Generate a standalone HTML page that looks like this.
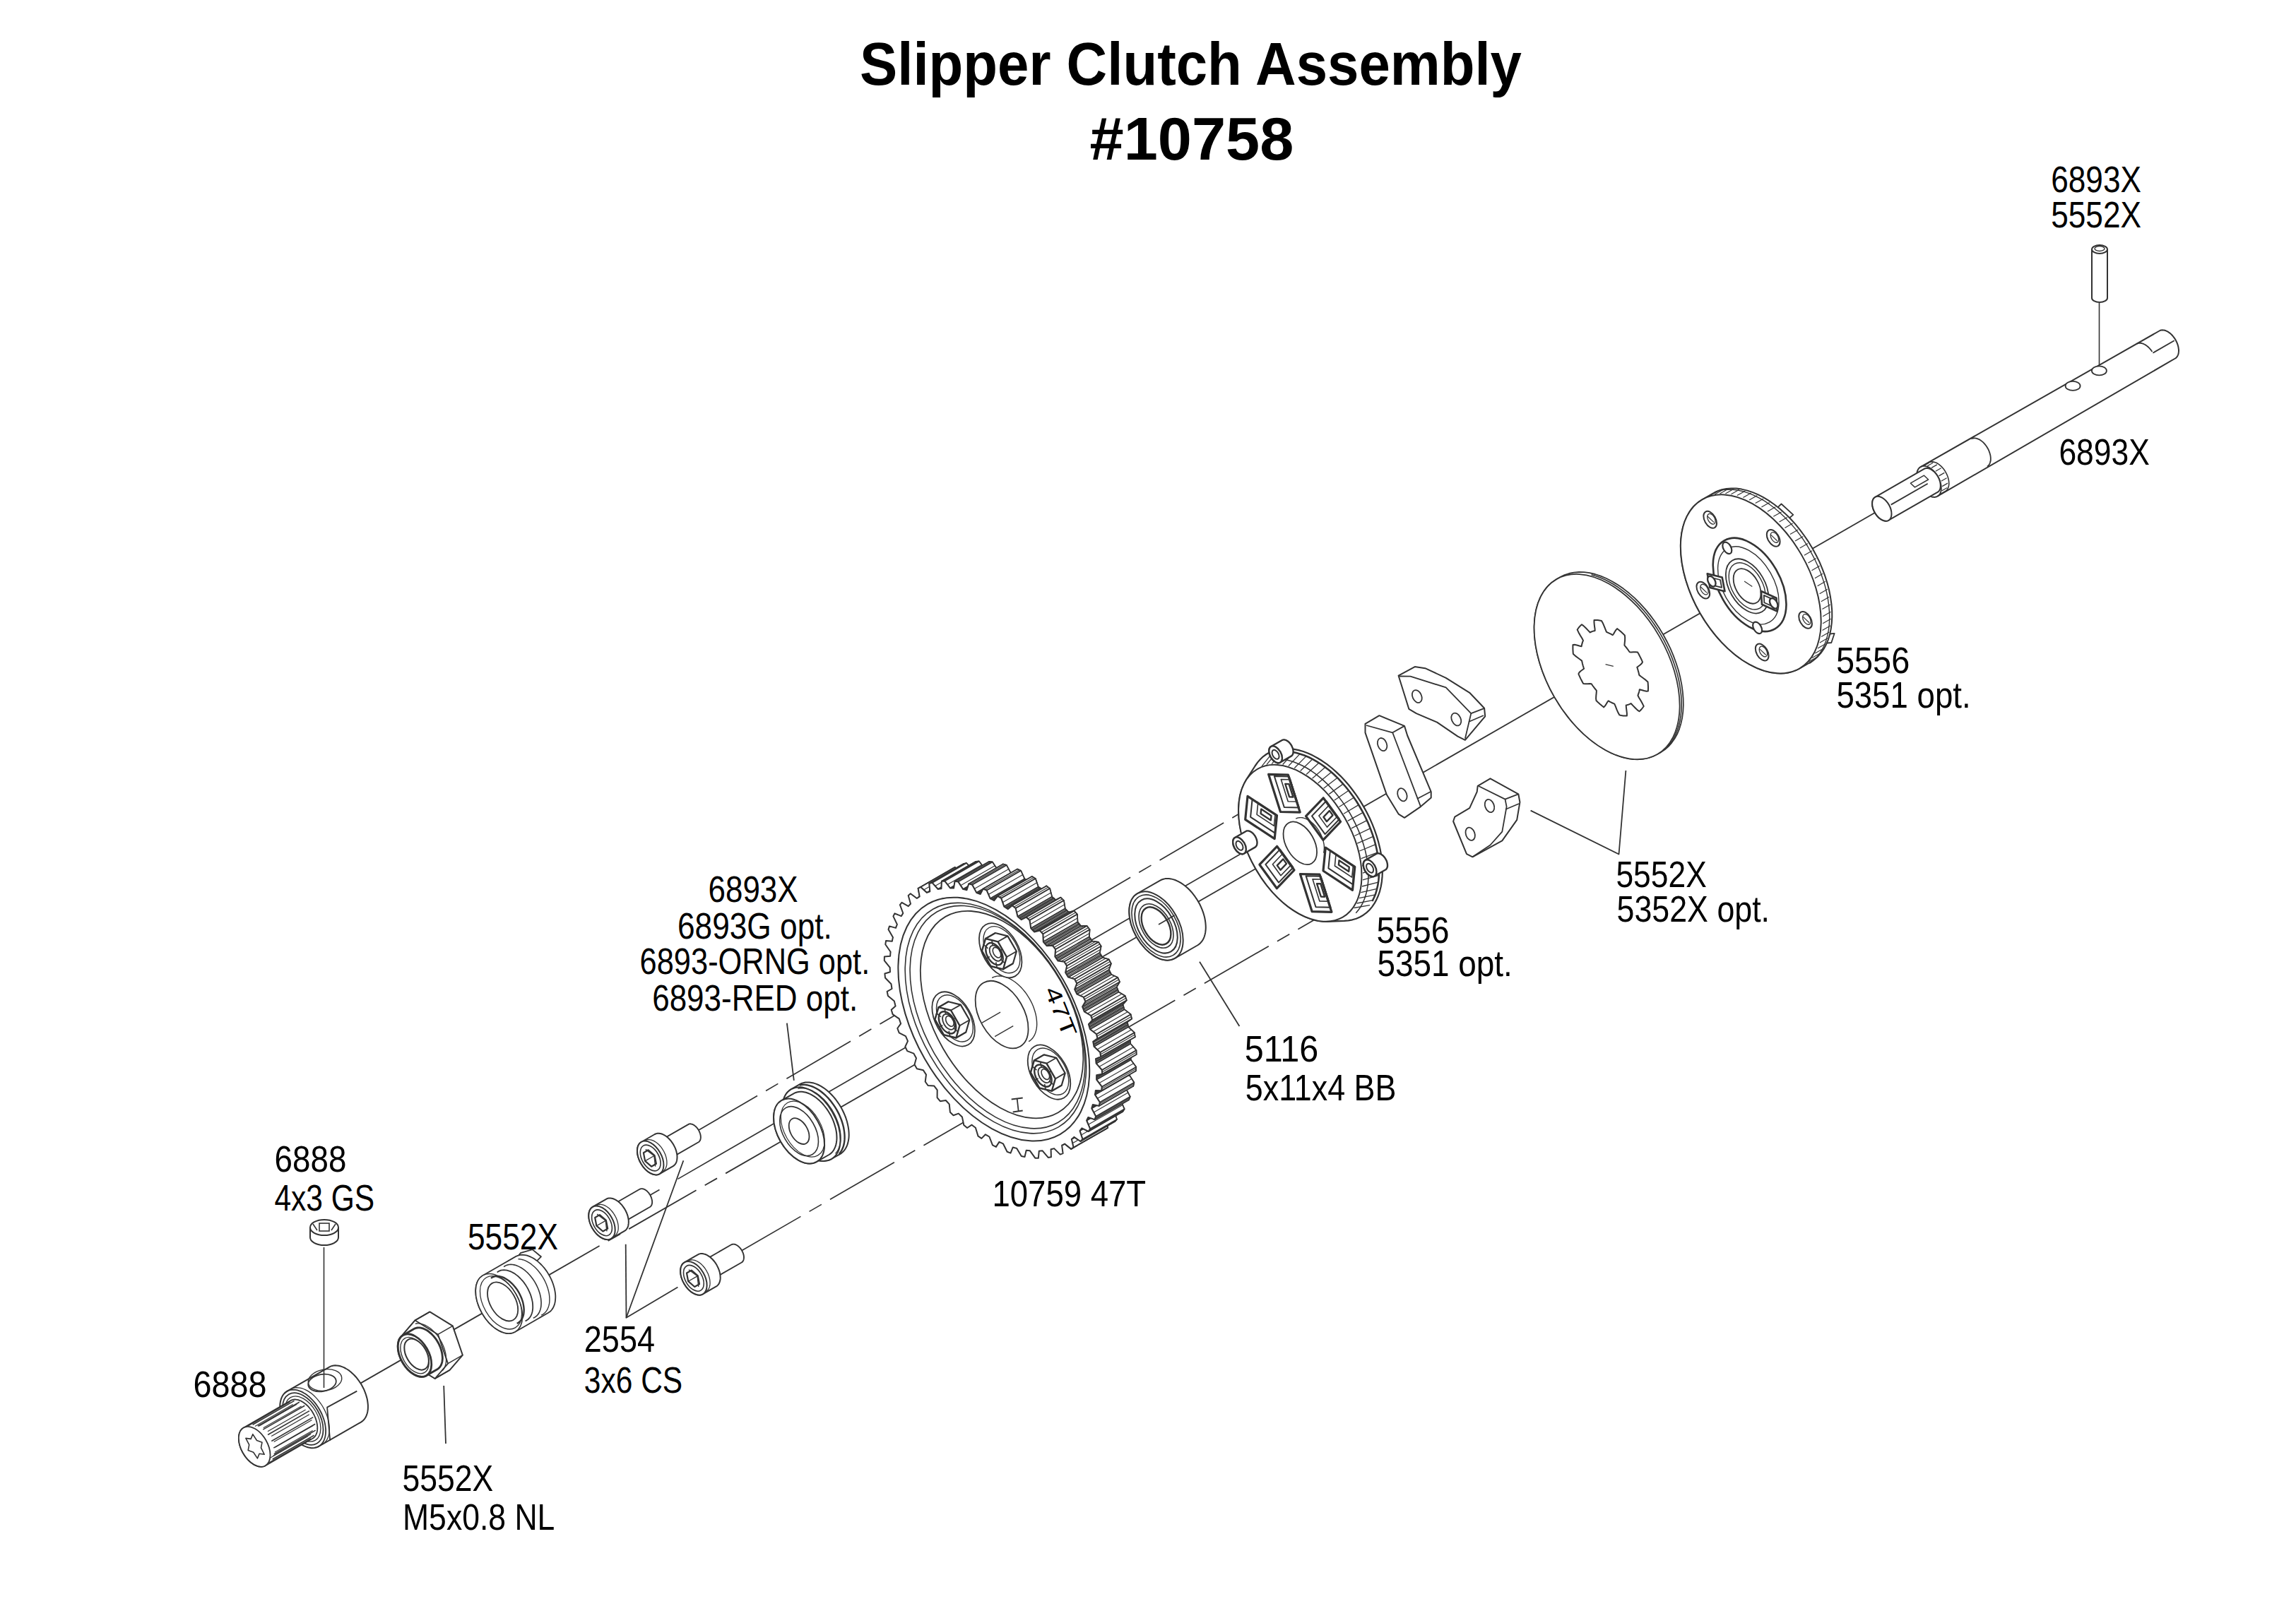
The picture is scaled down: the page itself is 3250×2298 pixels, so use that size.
<!DOCTYPE html>
<html><head><meta charset="utf-8"><style>
html,body{margin:0;padding:0;background:#fff;}
svg{display:block;}
.lb{font-family:"Liberation Sans",sans-serif;font-size:52px;fill:#000;}
.tt{font-family:"Liberation Sans",sans-serif;font-size:86px;font-weight:bold;fill:#000;}
</style></head><body>
<svg xmlns="http://www.w3.org/2000/svg" width="3250" height="2298" viewBox="0 0 3250 2298">
<rect width="3250" height="2298" fill="#fff"/>
<text x="2903.2" y="272.3" textLength="127.8" lengthAdjust="spacingAndGlyphs" class="lb">6893X</text>
<text x="2903.2" y="321.5" textLength="127.8" lengthAdjust="spacingAndGlyphs" class="lb">5552X</text>
<text x="2914.4" y="657.5" textLength="128.4" lengthAdjust="spacingAndGlyphs" class="lb">6893X</text>
<text x="2599.0" y="952.5" textLength="104.2" lengthAdjust="spacingAndGlyphs" class="lb">5556</text>
<text x="2599.4" y="1001.5" textLength="190.2" lengthAdjust="spacingAndGlyphs" class="lb">5351 opt.</text>
<text x="2287.4" y="1256.2" textLength="128.4" lengthAdjust="spacingAndGlyphs" class="lb">5552X</text>
<text x="2288.6" y="1305.2" textLength="216.4" lengthAdjust="spacingAndGlyphs" class="lb">5352X opt.</text>
<text x="1948.6" y="1334.7" textLength="103.0" lengthAdjust="spacingAndGlyphs" class="lb">5556</text>
<text x="1949.4" y="1381.7" textLength="191.4" lengthAdjust="spacingAndGlyphs" class="lb">5351 opt.</text>
<text x="1002.6" y="1276.7" textLength="127.0" lengthAdjust="spacingAndGlyphs" class="lb">6893X</text>
<text x="959.0" y="1329.0" textLength="218.8" lengthAdjust="spacingAndGlyphs" class="lb">6893G opt.</text>
<text x="905.6" y="1378.6" textLength="325.6" lengthAdjust="spacingAndGlyphs" class="lb">6893-ORNG opt.</text>
<text x="923.2" y="1430.8" textLength="291.0" lengthAdjust="spacingAndGlyphs" class="lb">6893-RED opt.</text>
<text x="1761.8" y="1502.7" textLength="104.4" lengthAdjust="spacingAndGlyphs" class="lb">5116</text>
<text x="1762.8" y="1557.6" textLength="213.6" lengthAdjust="spacingAndGlyphs" class="lb">5x11x4 BB</text>
<text x="1404.4" y="1707.9" textLength="217.8" lengthAdjust="spacingAndGlyphs" class="lb">10759 47T</text>
<text x="388.6" y="1658.8" textLength="101.8" lengthAdjust="spacingAndGlyphs" class="lb">6888</text>
<text x="388.4" y="1713.7" textLength="141.8" lengthAdjust="spacingAndGlyphs" class="lb">4x3 GS</text>
<text x="662.0" y="1769.2" textLength="128.0" lengthAdjust="spacingAndGlyphs" class="lb">5552X</text>
<text x="826.8" y="1914.4" textLength="100.2" lengthAdjust="spacingAndGlyphs" class="lb">2554</text>
<text x="826.8" y="1971.5" textLength="139.4" lengthAdjust="spacingAndGlyphs" class="lb">3x6 CS</text>
<text x="273.4" y="1977.9" textLength="104.0" lengthAdjust="spacingAndGlyphs" class="lb">6888</text>
<text x="569.4" y="2111.0" textLength="128.8" lengthAdjust="spacingAndGlyphs" class="lb">5552X</text>
<text x="570.0" y="2165.8" textLength="215.4" lengthAdjust="spacingAndGlyphs" class="lb">M5x0.8 NL</text>
<text x="1217.0" y="119.5" textLength="937.0" lengthAdjust="spacingAndGlyphs" class="tt">Slipper Clutch Assembly</text>
<text x="1542.6" y="226.2" textLength="288.8" lengthAdjust="spacingAndGlyphs" class="tt">#10758</text>
<line x1="456.7" y1="1989.4" x2="753.2" y2="1818.9" stroke="#333" stroke-width="1.8"/>
<line x1="753.2" y1="1818.9" x2="1131.1" y2="1601.6" stroke="#333" stroke-width="1.8" stroke-dasharray="110 14 20 14"/>
<line x1="1131.1" y1="1601.6" x2="2658.6" y2="723.3" stroke="#333" stroke-width="1.8"/>
<line x1="2971.5" y1="429.0" x2="2971.5" y2="517.0" stroke="#333" stroke-width="1.6"/>
<path d="M2961,353 L2961,422 A11,6 0 0 0 2983,422 L2983,353" fill="#fff" stroke="#333" stroke-width="2"/>
<ellipse cx="2972" cy="353" rx="11" ry="6" fill="#fff" stroke="#333" stroke-width="2"/>
<ellipse cx="2972" cy="352" rx="7" ry="3.5" fill="none" stroke="#333" stroke-width="1.4"/>
<polygon points="3056.6,468.5 3057.5,468.0 3058.5,467.6 3059.6,467.4 3060.7,467.3 3061.9,467.4 3063.1,467.5 3064.3,467.8 3065.6,468.2 3066.9,468.8 3068.1,469.4 3069.4,470.2 3070.7,471.1 3071.9,472.0 3073.1,473.1 3074.3,474.3 3075.4,475.5 3076.5,476.9 3077.6,478.3 3078.6,479.7 3079.5,481.2 3080.3,482.8 3081.1,484.4 3081.8,486.0 3082.4,487.6 3082.9,489.2 3083.3,490.8 3083.6,492.4 3083.8,494.0 3084.0,495.5 3084.0,497.0 3083.9,498.4 3083.7,499.8 3083.5,501.1 3083.1,502.3 3082.6,503.4 3082.1,504.4 3081.4,505.4 3080.7,506.2 3079.9,506.9 3079.0,507.5 2742.5,702.7 2741.5,703.2 2740.4,703.5 2739.3,703.8 2738.1,703.9 2736.8,703.8 2735.5,703.7 2734.2,703.4 2732.9,702.9 2731.5,702.4 2730.2,701.7 2728.8,700.8 2727.5,699.9 2726.2,698.9 2724.9,697.7 2723.6,696.5 2722.4,695.1 2721.2,693.7 2720.1,692.2 2719.1,690.7 2718.1,689.1 2717.2,687.4 2716.4,685.7 2715.6,684.0 2715.0,682.3 2714.4,680.5 2714.0,678.8 2713.7,677.1 2713.4,675.5 2713.3,673.8 2713.3,672.2 2713.4,670.7 2713.5,669.3 2713.8,667.9 2714.2,666.6 2714.7,665.4 2715.3,664.3 2716.0,663.3 2716.8,662.4 2717.7,661.7 2718.6,661.1" fill="#fff" stroke="#333" stroke-width="2.0" stroke-linejoin="round"/>
<polyline points="2718.6,661.1 2719.6,660.6 2720.7,660.2 2721.8,660.0 2723.0,659.9 2724.3,659.9 2725.6,660.1 2726.9,660.4 2728.2,660.8 2729.6,661.4 2730.9,662.1 2732.3,662.9 2733.6,663.8 2734.9,664.9 2736.2,666.0 2737.5,667.3 2738.7,668.6 2739.9,670.0 2741.0,671.5 2742.1,673.1 2743.0,674.7 2743.9,676.4 2744.8,678.0 2745.5,679.8 2746.1,681.5 2746.7,683.2 2747.1,684.9 2747.5,686.6 2747.7,688.3 2747.8,689.9 2747.8,691.5 2747.8,693.0 2747.6,694.5 2747.3,695.9 2746.9,697.2 2746.4,698.4 2745.8,699.4 2745.1,700.4 2744.3,701.3 2743.5,702.1 2742.5,702.7" fill="none" stroke="#333" stroke-width="1.8" stroke-linejoin="round"/>
<polyline points="2730.1,655.0 2731.1,654.5 2732.2,654.2 2733.3,653.9 2734.5,653.8 2735.7,653.9 2736.9,654.1 2738.2,654.4 2739.5,654.8 2740.9,655.3 2742.2,656.0 2743.5,656.8 2744.8,657.7 2746.1,658.8 2747.4,659.9 2748.6,661.1 2749.8,662.4 2751.0,663.8 2752.1,665.3 2753.1,666.8 2754.0,668.4 2754.9,670.0 2755.7,671.6 2756.4,673.3 2757.1,675.0 2757.6,676.7 2758.0,678.4 2758.4,680.0 2758.6,681.7 2758.7,683.3 2758.8,684.8 2758.7,686.3 2758.5,687.7 2758.2,689.1 2757.8,690.4 2757.3,691.5 2756.7,692.6 2756.1,693.6 2755.3,694.4 2754.5,695.2 2753.5,695.8" fill="none" stroke="#333" stroke-width="1.6" stroke-linejoin="round"/>
<line x1="2722.9" y1="659.6" x2="2730.7" y2="655.1" stroke="#333" stroke-width="1.3"/>
<line x1="2728.3" y1="659.7" x2="2736.1" y2="655.2" stroke="#333" stroke-width="1.3"/>
<line x1="2734.1" y1="662.4" x2="2741.9" y2="657.9" stroke="#333" stroke-width="1.3"/>
<line x1="2739.8" y1="667.3" x2="2747.6" y2="662.8" stroke="#333" stroke-width="1.3"/>
<line x1="2744.5" y1="673.9" x2="2752.3" y2="669.4" stroke="#333" stroke-width="1.3"/>
<line x1="2747.8" y1="681.2" x2="2755.6" y2="676.8" stroke="#333" stroke-width="1.3"/>
<line x1="2749.2" y1="688.6" x2="2757.0" y2="684.1" stroke="#333" stroke-width="1.3"/>
<line x1="2748.5" y1="695.0" x2="2756.3" y2="690.5" stroke="#333" stroke-width="1.3"/>
<line x1="2745.9" y1="699.7" x2="2753.8" y2="695.2" stroke="#333" stroke-width="1.3"/>
<polyline points="2790.4,621.5 2791.4,621.0 2792.4,620.7 2793.5,620.5 2794.6,620.4 2795.8,620.4 2797.0,620.6 2798.2,620.9 2799.4,621.3 2800.7,621.8 2802.0,622.4 2803.3,623.2 2804.5,624.1 2805.8,625.1 2807.0,626.1 2808.2,627.3 2809.3,628.6 2810.4,629.9 2811.4,631.3 2812.4,632.8 2813.3,634.3 2814.2,635.8 2815.0,637.4 2815.6,639.0 2816.2,640.6 2816.7,642.2 2817.2,643.9 2817.5,645.5 2817.7,647.0 2817.8,648.6 2817.8,650.0 2817.8,651.5 2817.6,652.8 2817.3,654.1 2816.9,655.3 2816.5,656.4 2815.9,657.5 2815.3,658.4 2814.6,659.2 2813.7,659.9 2812.9,660.5" fill="none" stroke="#333" stroke-width="1.8" stroke-linejoin="round"/>
<polyline points="3024.5,486.9 3024.9,486.7 3025.4,486.5 3025.9,486.3 3026.3,486.1 3026.8,486.0 3027.3,485.9 3027.9,485.8 3028.4,485.8 3028.9,485.8 3029.5,485.8 3030.1,485.8 3030.6,485.9 3031.2,486.0 3031.8,486.1 3032.4,486.3 3032.9,486.5 3033.5,486.7 3034.1,486.9 3034.7,487.2 3035.3,487.5 3035.9,487.8 3036.5,488.1 3037.1,488.5 3037.7,488.9 3038.3,489.3 3038.9,489.8 3039.5,490.2 3040.1,490.7 3040.7,491.2 3041.2,491.7 3041.8,492.3 3042.4,492.9 3042.9,493.4 3043.4,494.1 3044.0,494.7 3044.5,495.3 3045.0,496.0 3045.5,496.6 3045.9,497.3 3046.4,498.0" fill="none" stroke="#333" stroke-width="1.8" stroke-linejoin="round"/>
<line x1="3047.4" y1="499.7" x2="3077.7" y2="482.2" stroke="#333" stroke-width="1.8"/>
<polygon points="2723.7,663.9 2724.5,663.5 2725.3,663.2 2726.3,663.0 2727.2,663.0 2728.2,663.0 2729.2,663.1 2730.2,663.4 2731.3,663.7 2732.4,664.2 2733.4,664.7 2734.5,665.4 2735.6,666.1 2736.6,666.9 2737.7,667.8 2738.7,668.8 2739.6,669.9 2740.6,671.0 2741.4,672.2 2742.3,673.4 2743.0,674.7 2743.8,676.0 2744.4,677.3 2745.0,678.7 2745.5,680.1 2745.9,681.4 2746.3,682.8 2746.5,684.1 2746.7,685.5 2746.8,686.8 2746.8,688.0 2746.8,689.2 2746.6,690.4 2746.4,691.5 2746.1,692.5 2745.7,693.4 2745.2,694.3 2744.7,695.1 2744.1,695.8 2743.4,696.4 2742.6,696.9 2673.3,736.7 2672.5,737.1 2671.6,737.4 2670.7,737.6 2669.8,737.7 2668.8,737.7 2667.8,737.5 2666.7,737.3 2665.7,736.9 2664.6,736.5 2663.5,735.9 2662.4,735.3 2661.4,734.5 2660.3,733.7 2659.3,732.8 2658.3,731.8 2657.3,730.8 2656.4,729.6 2655.5,728.4 2654.7,727.2 2653.9,725.9 2653.2,724.6 2652.6,723.3 2652.0,721.9 2651.5,720.6 2651.1,719.2 2650.7,717.8 2650.4,716.5 2650.2,715.2 2650.1,713.9 2650.1,712.6 2650.2,711.4 2650.3,710.3 2650.6,709.2 2650.9,708.2 2651.3,707.2 2651.7,706.4 2652.3,705.6 2652.9,704.9 2653.6,704.3 2654.3,703.8" fill="#fff" stroke="#333" stroke-width="2.0" stroke-linejoin="round"/>
<ellipse cx="2663.8" cy="720.3" rx="11.4" ry="19.0" transform="rotate(-29.9 2663.8 720.3)" fill="#fff" stroke="#333" stroke-width="2.0"/>
<line x1="2676.7" y1="714.6" x2="2728.7" y2="684.7" stroke="#333" stroke-width="1.8"/>
<polyline points="2660.0,733.4 2658.3,731.8 2656.7,730.0 2655.2,728.0 2653.9,725.9 2652.8,723.7 2651.8,721.5 2651.1,719.2 2650.5,716.9" fill="none" stroke="#333" stroke-width="1.4" stroke-linejoin="round"/>
<polygon points="2704.4,684.2 2723.5,673.2 2729.6,679.0 2710.5,689.9" fill="none" stroke="#333" stroke-width="1.5" stroke-linejoin="round"/>
<ellipse cx="2934.1" cy="546.4" rx="10.5" ry="6.5" fill="#fff" stroke="#333" stroke-width="1.8"/>
<ellipse cx="2971.4" cy="524.9" rx="10.5" ry="6.5" fill="#fff" stroke="#333" stroke-width="1.8"/>
<polygon points="2425.1,698.3 2430.9,695.5 2437.2,693.3 2443.8,692.0 2450.7,691.4 2457.8,691.6 2465.2,692.6 2472.7,694.4 2480.4,696.9 2488.2,700.2 2496.0,704.2 2503.8,708.9 2511.5,714.3 2519.2,720.3 2526.6,726.9 2533.9,734.0 2540.9,741.7 2547.6,749.9 2554.0,758.5 2560.1,767.4 2565.7,776.7 2570.8,786.2 2575.6,795.9 2579.7,805.8 2583.4,815.7 2586.5,825.6 2589.1,835.5 2591.0,845.3 2592.4,854.9 2593.2,864.3 2593.3,873.4 2592.8,882.1 2591.7,890.5 2590.1,898.4 2587.8,905.8 2584.9,912.7 2581.5,919.0 2577.5,924.7 2573.1,929.7 2568.1,934.0 2562.7,937.6 2547.1,946.6 2541.2,949.4 2535.0,951.6 2528.4,952.9 2521.5,953.5 2514.4,953.3 2507.0,952.3 2499.4,950.5 2491.8,948.0 2484.0,944.7 2476.2,940.7 2468.4,936.0 2460.7,930.6 2453.0,924.6 2445.6,918.0 2438.3,910.8 2431.3,903.2 2424.6,895.0 2418.2,886.4 2412.1,877.5 2406.5,868.2 2401.3,858.7 2396.6,849.0 2392.4,839.1 2388.8,829.2 2385.6,819.3 2383.1,809.4 2381.1,799.6 2379.8,790.0 2379.0,780.6 2378.9,771.5 2379.4,762.8 2380.4,754.4 2382.1,746.5 2384.4,739.1 2387.3,732.2 2390.7,725.9 2394.6,720.2 2399.1,715.2 2404.1,710.9 2409.5,707.3" fill="#fff" stroke="#333" stroke-width="2.0" stroke-linejoin="round"/>
<ellipse cx="2478.3" cy="826.9" rx="82.8" ry="138.0" transform="rotate(-29.9 2478.3 826.9)" fill="#fff" stroke="#333" stroke-width="2.0"/>
<polyline points="2426.8,696.8 2432.9,694.8 2439.3,693.5 2446.0,693.0 2452.9,693.2 2460.0,694.1 2467.3,695.7 2474.7,698.1 2482.3,701.1 2489.8,704.8 2497.4,709.2 2504.9,714.2 2512.3,719.8 2519.6,726.0 2526.7,732.7 2533.6,740.0 2540.3,747.6 2546.6,755.7 2552.7,764.2 2558.4,773.0 2563.6,782.1 2568.5,791.3 2572.9,800.8 2576.9,810.3 2580.3,819.9 2583.3,829.5 2585.7,839.1 2587.5,848.6 2588.8,857.9 2589.5,866.9 2589.7,875.8 2589.3,884.3 2588.3,892.4 2586.7,900.1 2584.7,907.4 2582.0,914.2 2578.9,920.4 2575.2,926.1 2571.0,931.2 2566.4,935.6 2561.3,939.4" fill="none" stroke="#333" stroke-width="1.4" stroke-linejoin="round"/>
<line x1="2420.0" y1="702.1" x2="2431.2" y2="695.7" stroke="#333" stroke-width="1.2"/>
<line x1="2427.1" y1="700.1" x2="2438.3" y2="693.7" stroke="#333" stroke-width="1.2"/>
<line x1="2434.5" y1="699.1" x2="2445.8" y2="692.6" stroke="#333" stroke-width="1.2"/>
<line x1="2442.4" y1="699.0" x2="2453.7" y2="692.5" stroke="#333" stroke-width="1.2"/>
<line x1="2450.5" y1="699.8" x2="2461.8" y2="693.3" stroke="#333" stroke-width="1.2"/>
<line x1="2458.9" y1="701.6" x2="2470.2" y2="695.2" stroke="#333" stroke-width="1.2"/>
<line x1="2467.4" y1="704.4" x2="2478.7" y2="697.9" stroke="#333" stroke-width="1.2"/>
<line x1="2476.1" y1="708.1" x2="2487.3" y2="701.6" stroke="#333" stroke-width="1.2"/>
<line x1="2484.7" y1="712.6" x2="2496.0" y2="706.2" stroke="#333" stroke-width="1.2"/>
<line x1="2493.4" y1="718.1" x2="2504.7" y2="711.6" stroke="#333" stroke-width="1.2"/>
<line x1="2501.9" y1="724.3" x2="2513.2" y2="717.8" stroke="#333" stroke-width="1.2"/>
<line x1="2510.3" y1="731.3" x2="2521.6" y2="724.9" stroke="#333" stroke-width="1.2"/>
<line x1="2518.5" y1="739.1" x2="2529.8" y2="732.6" stroke="#333" stroke-width="1.2"/>
<line x1="2526.4" y1="747.5" x2="2537.6" y2="741.0" stroke="#333" stroke-width="1.2"/>
<line x1="2533.9" y1="756.5" x2="2545.2" y2="750.0" stroke="#333" stroke-width="1.2"/>
<line x1="2541.0" y1="766.0" x2="2552.3" y2="759.5" stroke="#333" stroke-width="1.2"/>
<line x1="2547.7" y1="775.9" x2="2559.0" y2="769.4" stroke="#333" stroke-width="1.2"/>
<line x1="2553.9" y1="786.3" x2="2565.1" y2="779.8" stroke="#333" stroke-width="1.2"/>
<line x1="2559.5" y1="796.9" x2="2570.7" y2="790.4" stroke="#333" stroke-width="1.2"/>
<line x1="2564.5" y1="807.8" x2="2575.7" y2="801.3" stroke="#333" stroke-width="1.2"/>
<line x1="2568.9" y1="818.7" x2="2580.1" y2="812.3" stroke="#333" stroke-width="1.2"/>
<line x1="2572.6" y1="829.8" x2="2583.8" y2="823.3" stroke="#333" stroke-width="1.2"/>
<line x1="2575.6" y1="840.8" x2="2586.8" y2="834.3" stroke="#333" stroke-width="1.2"/>
<line x1="2577.8" y1="851.7" x2="2589.1" y2="845.2" stroke="#333" stroke-width="1.2"/>
<line x1="2579.4" y1="862.4" x2="2590.7" y2="855.9" stroke="#333" stroke-width="1.2"/>
<line x1="2580.2" y1="872.8" x2="2591.5" y2="866.3" stroke="#333" stroke-width="1.2"/>
<line x1="2580.2" y1="882.8" x2="2591.5" y2="876.3" stroke="#333" stroke-width="1.2"/>
<line x1="2579.5" y1="892.4" x2="2590.8" y2="886.0" stroke="#333" stroke-width="1.2"/>
<line x1="2578.1" y1="901.5" x2="2589.3" y2="895.1" stroke="#333" stroke-width="1.2"/>
<line x1="2575.9" y1="910.1" x2="2587.1" y2="903.6" stroke="#333" stroke-width="1.2"/>
<line x1="2572.9" y1="917.9" x2="2584.2" y2="911.5" stroke="#333" stroke-width="1.2"/>
<line x1="2569.3" y1="925.1" x2="2580.6" y2="918.6" stroke="#333" stroke-width="1.2"/>
<line x1="2565.0" y1="931.5" x2="2576.3" y2="925.1" stroke="#333" stroke-width="1.2"/>
<line x1="2560.1" y1="937.1" x2="2571.3" y2="930.7" stroke="#333" stroke-width="1.2"/>
<polyline points="2516.6,718.2 2521.5,713.5 2538.3,728.9 2533.1,733.2" fill="none" stroke="#333" stroke-width="1.8" stroke-linejoin="round"/>
<polyline points="2590.3,897.5 2596.7,896.8 2592.3,910.0 2585.9,910.5" fill="none" stroke="#333" stroke-width="1.8" stroke-linejoin="round"/>
<ellipse cx="2510.2" cy="761.9" rx="7.8" ry="13.0" transform="rotate(-29.9 2510.2 761.9)" fill="#fff" stroke="#333" stroke-width="2.0"/>
<ellipse cx="2511.9" cy="760.9" rx="4.8" ry="8.0" transform="rotate(-29.9 2511.9 760.9)" fill="none" stroke="#333" stroke-width="1.3"/>
<line x1="2506.5" y1="757.1" x2="2515.6" y2="765.7" stroke="#333" stroke-width="1.2"/>
<ellipse cx="2555.6" cy="877.9" rx="7.8" ry="13.0" transform="rotate(-29.9 2555.6 877.9)" fill="#fff" stroke="#333" stroke-width="2.0"/>
<ellipse cx="2557.4" cy="876.9" rx="4.8" ry="8.0" transform="rotate(-29.9 2557.4 876.9)" fill="none" stroke="#333" stroke-width="1.3"/>
<line x1="2552.0" y1="873.1" x2="2561.1" y2="881.7" stroke="#333" stroke-width="1.2"/>
<ellipse cx="2494.2" cy="923.5" rx="7.8" ry="13.0" transform="rotate(-29.9 2494.2 923.5)" fill="#fff" stroke="#333" stroke-width="2.0"/>
<ellipse cx="2495.9" cy="922.5" rx="4.8" ry="8.0" transform="rotate(-29.9 2495.9 922.5)" fill="none" stroke="#333" stroke-width="1.3"/>
<line x1="2490.5" y1="918.6" x2="2499.6" y2="927.3" stroke="#333" stroke-width="1.2"/>
<ellipse cx="2410.8" cy="835.6" rx="7.8" ry="13.0" transform="rotate(-29.9 2410.8 835.6)" fill="#fff" stroke="#333" stroke-width="2.0"/>
<ellipse cx="2412.5" cy="834.6" rx="4.8" ry="8.0" transform="rotate(-29.9 2412.5 834.6)" fill="none" stroke="#333" stroke-width="1.3"/>
<line x1="2407.1" y1="830.8" x2="2416.2" y2="839.4" stroke="#333" stroke-width="1.2"/>
<ellipse cx="2420.7" cy="735.8" rx="7.8" ry="13.0" transform="rotate(-29.9 2420.7 735.8)" fill="#fff" stroke="#333" stroke-width="2.0"/>
<ellipse cx="2422.4" cy="734.8" rx="4.8" ry="8.0" transform="rotate(-29.9 2422.4 734.8)" fill="none" stroke="#333" stroke-width="1.3"/>
<line x1="2417.0" y1="731.0" x2="2426.1" y2="739.6" stroke="#333" stroke-width="1.2"/>
<ellipse cx="2476.6" cy="827.9" rx="43.2" ry="72.0" transform="rotate(-29.9 2476.6 827.9)" fill="#fff" stroke="#333" stroke-width="2.6"/>
<ellipse cx="2474.8" cy="828.9" rx="36.0" ry="60.0" transform="rotate(-29.9 2474.8 828.9)" fill="none" stroke="#333" stroke-width="1.4"/>
<ellipse cx="2473.1" cy="829.9" rx="25.2" ry="42.0" transform="rotate(-29.9 2473.1 829.9)" fill="#fff" stroke="#333" stroke-width="1.8"/>
<ellipse cx="2473.1" cy="829.9" rx="21.6" ry="36.0" transform="rotate(-29.9 2473.1 829.9)" fill="none" stroke="#333" stroke-width="1.4"/>
<ellipse cx="2473.1" cy="829.9" rx="16.2" ry="27.0" transform="rotate(-29.9 2473.1 829.9)" fill="none" stroke="#333" stroke-width="1.8"/>
<line x1="2469.1" y1="823.0" x2="2480.3" y2="830.4" stroke="#333" stroke-width="1.2"/>
<polygon points="2441.5,837.2 2420.5,832.0 2416.7,812.2 2437.7,817.4" fill="#fff" stroke="#333" stroke-width="2.6" stroke-linejoin="round"/>
<polygon points="2437.1,831.8 2423.1,828.3 2421.0,817.5 2435.0,821.0" fill="none" stroke="#333" stroke-width="1.8" stroke-linejoin="round"/>
<ellipse cx="2422.8" cy="823.1" rx="4.8" ry="8.0" transform="rotate(-29.9 2422.8 823.1)" fill="#fff" stroke="#333" stroke-width="2.4"/>
<polygon points="2492.9,837.0 2514.5,846.8 2515.6,865.6 2494.0,855.8" fill="#fff" stroke="#333" stroke-width="2.6" stroke-linejoin="round"/>
<polygon points="2496.8,842.9 2511.2,849.4 2511.7,859.7 2497.3,853.2" fill="none" stroke="#333" stroke-width="1.8" stroke-linejoin="round"/>
<ellipse cx="2510.7" cy="854.3" rx="4.8" ry="8.0" transform="rotate(-29.9 2510.7 854.3)" fill="#fff" stroke="#333" stroke-width="2.4"/>
<ellipse cx="2444.8" cy="775.8" rx="5.4" ry="9.0" transform="rotate(-29.9 2444.8 775.8)" fill="#fff" stroke="#333" stroke-width="2.2"/>
<ellipse cx="2487.6" cy="888.8" rx="5.4" ry="9.0" transform="rotate(-29.9 2487.6 888.8)" fill="#fff" stroke="#333" stroke-width="2.2"/>
<polygon points="2208.5,817.1 2214.5,814.1 2221.0,812.0 2227.8,810.6 2235.0,810.0 2242.4,810.2 2250.0,811.2 2257.9,813.0 2265.8,815.7 2273.9,819.0 2282.0,823.2 2290.0,828.1 2298.0,833.6 2305.9,839.8 2313.7,846.7 2321.2,854.1 2328.5,862.1 2335.5,870.6 2342.1,879.5 2348.3,888.7 2354.1,898.3 2359.5,908.2 2364.4,918.2 2368.7,928.4 2372.5,938.7 2375.8,949.0 2378.4,959.3 2380.4,969.4 2381.8,979.4 2382.6,989.1 2382.8,998.5 2382.3,1007.6 2381.2,1016.2 2379.4,1024.4 2377.1,1032.1 2374.1,1039.3 2370.5,1045.8 2366.4,1051.6 2361.8,1056.8 2356.7,1061.3 2351.1,1065.1 2345.9,1068.0 2339.8,1071.0 2333.3,1073.2 2326.5,1074.6 2319.4,1075.2 2312.0,1075.0 2304.3,1074.0 2296.5,1072.1 2288.5,1069.5 2280.5,1066.1 2272.4,1062.0 2264.3,1057.1 2256.3,1051.5 2248.4,1045.3 2240.7,1038.5 2233.1,1031.0 2225.9,1023.1 2218.9,1014.6 2212.3,1005.7 2206.0,996.4 2200.2,986.9 2194.8,977.0 2190.0,966.9 2185.6,956.7 2181.8,946.4 2178.6,936.2 2175.9,925.9 2173.9,915.8 2172.5,905.8 2171.7,896.1 2171.6,886.7 2172.1,877.6 2173.2,868.9 2174.9,860.7 2177.3,853.0 2180.2,845.9 2183.8,839.4 2187.9,833.5 2192.5,828.3 2197.7,823.9 2203.3,820.1" fill="#fff" stroke="#333" stroke-width="1.8" stroke-linejoin="round"/>
<ellipse cx="2274.6" cy="944.1" rx="85.8" ry="143.0" transform="rotate(-29.9 2274.6 944.1)" fill="#fff" stroke="#333" stroke-width="1.8"/>
<polyline points="2252.6,813.8 2258.8,815.6 2265.0,817.8 2271.3,820.5 2277.6,823.7 2283.8,827.3 2290.1,831.3 2296.3,835.8 2302.5,840.6 2308.5,845.8 2314.5,851.4 2320.2,857.4 2325.9,863.6 2331.3,870.1 2336.6,876.9 2341.6,884.0 2346.4,891.3 2350.9,898.7 2355.2,906.4 2359.1,914.1 2362.8,922.0 2366.1,929.9 2369.1,937.9 2371.8,945.9 2374.1,953.9 2376.1,961.9 2377.6,969.8 2378.8,977.6 2379.7,985.2 2380.1,992.7 2380.2,1000.0 2379.8,1007.1 2379.1,1013.9 2378.0,1020.5 2376.6,1026.8 2374.7,1032.8 2372.5,1038.4 2370.0,1043.7 2367.1,1048.6 2363.8,1053.1 2360.3,1057.2" fill="none" stroke="#333" stroke-width="1.6" stroke-linejoin="round"/>
<polygon points="2318.2,923.6 2319.1,925.3 2320.1,927.0 2320.9,928.7 2321.8,930.4 2322.7,932.2 2323.5,933.9 2324.3,935.7 2325.0,937.4 2323.8,939.5 2321.6,941.5 2319.3,943.2 2317.3,944.8 2317.8,946.2 2318.2,947.6 2318.6,949.0 2319.0,950.4 2319.4,951.7 2319.7,953.1 2320.0,954.5 2320.3,955.9 2322.7,957.8 2326.1,960.3 2329.6,962.9 2332.5,965.6 2332.7,967.2 2332.8,968.9 2332.9,970.6 2333.0,972.2 2333.0,973.9 2333.0,975.5 2332.9,977.1 2332.9,978.6 2330.5,978.7 2327.2,978.0 2323.7,977.0 2320.8,976.2 2320.6,977.4 2320.4,978.5 2320.1,979.6 2319.8,980.6 2319.5,981.7 2319.1,982.7 2318.8,983.7 2318.4,984.6 2319.9,987.7 2322.4,991.8 2324.8,996.1 2326.7,999.9 2326.0,1001.0 2325.3,1002.0 2324.5,1003.0 2323.8,1003.9 2323.0,1004.8 2322.1,1005.7 2321.3,1006.5 2320.4,1007.2 2317.8,1005.4 2314.6,1002.2 2311.3,998.9 2308.6,996.0 2307.8,996.5 2307.0,996.9 2306.1,997.2 2305.3,997.6 2304.4,997.9 2303.5,998.1 2302.6,998.4 2301.7,998.5 2301.9,1001.5 2302.4,1005.7 2302.9,1010.0 2302.9,1013.6 2301.6,1013.6 2300.3,1013.6 2299.0,1013.5 2297.7,1013.4 2296.4,1013.2 2295.1,1013.0 2293.7,1012.7 2292.4,1012.4 2290.6,1009.3 2288.6,1004.9 2286.9,1000.4 2285.3,996.6 2284.3,996.2 2283.2,995.7 2282.1,995.3 2281.0,994.7 2279.9,994.2 2278.8,993.6 2277.7,992.9 2276.6,992.3 2275.3,994.0 2273.7,996.8 2272.0,999.4 2270.2,1001.4 2268.9,1000.3 2267.5,999.3 2266.1,998.1 2264.8,997.0 2263.5,995.8 2262.1,994.6 2260.8,993.3 2259.5,992.1 2259.1,988.9 2259.3,984.9 2259.7,981.1 2259.9,977.8 2259.0,976.7 2258.0,975.5 2257.1,974.4 2256.2,973.2 2255.3,972.0 2254.4,970.8 2253.5,969.5 2252.7,968.3 2250.4,968.1 2247.3,968.3 2244.1,968.3 2241.2,967.9 2240.2,966.2 2239.3,964.5 2238.4,962.8 2237.5,961.1 2236.7,959.3 2235.9,957.6 2235.1,955.8 2234.4,954.1 2235.5,952.0 2237.7,950.0 2240.1,948.3 2242.1,946.7 2241.6,945.3 2241.2,943.9 2240.7,942.5 2240.4,941.2 2240.0,939.8 2239.7,938.4 2239.4,937.0 2239.1,935.6 2236.7,933.7 2233.3,931.2 2229.8,928.6 2226.9,926.0 2226.7,924.3 2226.6,922.6 2226.5,920.9 2226.4,919.3 2226.4,917.6 2226.4,916.0 2226.4,914.5 2226.5,912.9 2228.8,912.8 2232.2,913.5 2235.6,914.5 2238.6,915.3 2238.8,914.1 2239.0,913.0 2239.3,911.9 2239.6,910.9 2239.9,909.8 2240.2,908.8 2240.6,907.8 2241.0,906.9 2239.4,903.8 2236.9,899.7 2234.5,895.4 2232.7,891.6 2233.4,890.5 2234.1,889.5 2234.8,888.5 2235.6,887.6 2236.4,886.7 2237.2,885.9 2238.1,885.0 2239.0,884.3 2241.5,886.1 2244.8,889.3 2248.0,892.6 2250.8,895.5 2251.6,895.0 2252.4,894.6 2253.2,894.3 2254.1,893.9 2255.0,893.6 2255.8,893.4 2256.8,893.2 2257.7,893.0 2257.5,890.0 2256.9,885.8 2256.5,881.5 2256.5,877.9 2257.8,877.9 2259.0,877.9 2260.3,878.0 2261.6,878.1 2263.0,878.3 2264.3,878.5 2265.6,878.8 2267.0,879.1 2268.8,882.2 2270.7,886.6 2272.5,891.1 2274.0,894.9 2275.1,895.3 2276.2,895.8 2277.3,896.3 2278.4,896.8 2279.5,897.3 2280.6,897.9 2281.7,898.6 2282.8,899.2 2284.1,897.5 2285.6,894.7 2287.3,892.1 2289.1,890.1 2290.5,891.2 2291.9,892.3 2293.2,893.4 2294.6,894.5 2295.9,895.7 2297.2,896.9 2298.5,898.2 2299.8,899.4 2300.2,902.6 2300.1,906.6 2299.7,910.4 2299.4,913.7 2300.4,914.8 2301.3,916.0 2302.3,917.1 2303.2,918.3 2304.1,919.5 2305.0,920.8 2305.8,922.0 2306.7,923.2 2308.9,923.4 2312.0,923.2 2315.2,923.2 2318.2,923.6" fill="#fff" stroke="#333" stroke-width="2.0" stroke-linejoin="round"/>
<line x1="2272.6" y1="940.6" x2="2283.8" y2="943.4" stroke="#333" stroke-width="1.3"/>
<polygon points="1979.6,956.7 2002.7,944.1 2017.3,946.2 2046.7,959.8 2080.2,980.8 2101.1,1002.8 2102.2,1014.3 2073.9,1047.8 2063.4,1042.6 2034.1,1022.7 2004.8,1010.1 1994.3,1003.8" fill="#fff" stroke="#333" stroke-width="2.0" stroke-linejoin="round"/>
<polyline points="1981.0,957.5 1996.4,957.7 2046.7,973.4 2082.3,1010.1 2073.9,1045.7" fill="none" stroke="#333" stroke-width="1.8" stroke-linejoin="round"/>
<line x1="2082.3" y1="1010.1" x2="2101.1" y2="1002.8" stroke="#333" stroke-width="1.8"/>
<line x1="2079.0" y1="1022.0" x2="2100.0" y2="1013.0" stroke="#333" stroke-width="1.6"/>
<ellipse cx="2005.8" cy="986" rx="6.3" ry="9.4" transform="rotate(-25 2005.8 986)" fill="none" stroke="#333" stroke-width="1.8"/>
<ellipse cx="2061.3" cy="1018.5" rx="6.3" ry="9.4" transform="rotate(-25 2061.3 1018.5)" fill="none" stroke="#333" stroke-width="1.8"/>
<polygon points="1932.5,1024.8 1952.4,1013.2 1988.0,1027.9 1992.2,1041.5 2025.7,1121.1 2025.7,1129.5 2011.0,1142.1 1988.0,1157.8 1979.6,1152.6 1962.9,1125.3 1932.5,1037.3" fill="#fff" stroke="#333" stroke-width="2.0" stroke-linejoin="round"/>
<polyline points="1934.0,1027.0 1971.2,1037.3 2011.0,1142.1" fill="none" stroke="#333" stroke-width="1.8" stroke-linejoin="round"/>
<line x1="1971.2" y1="1037.3" x2="1988.0" y2="1027.9" stroke="#333" stroke-width="1.8"/>
<line x1="2006.0" y1="1131.0" x2="2025.0" y2="1121.0" stroke="#333" stroke-width="1.6"/>
<ellipse cx="1956.6" cy="1054.1" rx="6.3" ry="9.4" transform="rotate(-20 1956.6 1054.1)" fill="none" stroke="#333" stroke-width="1.8"/>
<ellipse cx="1984.9" cy="1125.3" rx="6.3" ry="9.4" transform="rotate(-20 1984.9 1125.3)" fill="none" stroke="#333" stroke-width="1.8"/>
<polygon points="2091.7,1112.8 2109.5,1102.3 2149.3,1124.3 2151.4,1135.8 2147.2,1160.9 2126.3,1190.3 2084.4,1213.3 2076.0,1209.1 2057.1,1163.0 2059.2,1156.7 2080.2,1144.2 2090.7,1121.1" fill="#fff" stroke="#333" stroke-width="2.0" stroke-linejoin="round"/>
<polyline points="2093.0,1113.0 2130.5,1131.6 2132.6,1142.1 2126.3,1177.7 2109.5,1196.5 2084.4,1213.3" fill="none" stroke="#333" stroke-width="1.8" stroke-linejoin="round"/>
<line x1="2130.5" y1="1131.6" x2="2149.3" y2="1124.3" stroke="#333" stroke-width="1.8"/>
<line x1="2131.0" y1="1146.0" x2="2150.0" y2="1138.0" stroke="#333" stroke-width="1.6"/>
<ellipse cx="2108.5" cy="1141" rx="6.3" ry="9.4" transform="rotate(-20 2108.5 1141)" fill="none" stroke="#333" stroke-width="1.8"/>
<ellipse cx="2081.2" cy="1180.8" rx="6.3" ry="9.4" transform="rotate(-20 2081.2 1180.8)" fill="none" stroke="#333" stroke-width="1.8"/>
<line x1="981.4" y1="1604.6" x2="1831.4" y2="1106.9" stroke="#333" stroke-width="1.7" stroke-dasharray="105 14 20 14"/>
<line x1="912.7" y1="1696.4" x2="1764.9" y2="1204.1" stroke="#333" stroke-width="1.7" stroke-dasharray="24 30 400 14 20 14 1000"/>
<line x1="1042.5" y1="1774.9" x2="1900.3" y2="1279.3" stroke="#333" stroke-width="1.7" stroke-dasharray="105 14 20 14"/>
<polygon points="1753.1,1147.0 1753.3,1140.1 1754.0,1133.5 1755.0,1127.1 1756.5,1121.1 1758.5,1115.4 1760.8,1110.1 1763.4,1105.2 1776.6,1084.5 1780.0,1079.6 1783.8,1075.2 1787.9,1071.3 1792.4,1068.0 1797.2,1065.2 1802.3,1063.0 1807.8,1061.4 1813.5,1060.4 1819.4,1059.9 1825.5,1060.1 1831.8,1060.8 1838.2,1062.1 1844.8,1064.0 1851.4,1066.5 1858.1,1069.6 1864.8,1073.2 1871.4,1077.3 1878.1,1081.9 1884.6,1087.0 1891.0,1092.6 1897.3,1098.6 1903.4,1105.0 1909.3,1111.8 1914.9,1119.0 1920.3,1126.4 1925.4,1134.1 1930.2,1142.1 1934.7,1150.2 1938.8,1158.5 1942.5,1166.9 1945.8,1175.4 1948.7,1183.9 1951.2,1192.4 1953.3,1200.9 1954.9,1209.2 1956.0,1217.5 1956.7,1225.5 1956.9,1233.3 1956.6,1240.9 1955.9,1248.2 1954.7,1255.2 1953.1,1261.8 1951.0,1268.0 1948.4,1273.9 1945.5,1279.2 1942.1,1284.1 1938.4,1288.5 1934.2,1292.4 1929.7,1295.7 1924.9,1298.5 1919.8,1300.7 1914.3,1302.3 1908.7,1303.4 1902.7,1303.8 1878.2,1304.8 1872.6,1304.6 1866.9,1304.0 1861.0,1302.8 1855.1,1301.0 1849.0,1298.8 1843.0,1296.0 1836.9,1292.7 1830.8,1289.0 1824.8,1284.8 1818.8,1280.1 1813.0,1275.0 1807.3,1269.5 1801.7,1263.7 1796.4,1257.5 1791.2,1251.0 1786.3,1244.3 1781.7,1237.2 1777.3,1230.0 1773.3,1222.6 1769.5,1215.1 1766.2,1207.4 1763.1,1199.7 1760.5,1192.0 1758.2,1184.2 1756.4,1176.5 1754.9,1168.9 1753.9,1161.5 1753.3,1154.1" fill="#fff" stroke="#333" stroke-width="2.2" stroke-linejoin="round"/>
<ellipse cx="1840.3" cy="1193.8" rx="72.6" ry="121.0" transform="rotate(-29.9 1840.3 1193.8)" fill="#fff" stroke="#333" stroke-width="2.0"/>
<polyline points="1806.4,1065.6 1811.6,1064.6 1817.0,1064.2 1822.6,1064.2 1828.3,1064.8 1834.2,1065.8 1840.1,1067.4 1846.2,1069.5 1852.3,1072.0 1858.4,1075.1 1864.5,1078.6 1870.6,1082.5 1876.7,1086.9 1882.6,1091.6 1888.5,1096.8 1894.3,1102.4 1899.8,1108.3 1905.2,1114.5 1910.4,1121.0 1915.4,1127.8 1920.2,1134.8 1924.6,1142.0 1928.8,1149.4 1932.7,1157.0 1936.3,1164.6 1939.5,1172.4 1942.4,1180.2 1945.0,1188.0 1947.1,1195.7 1948.9,1203.5 1950.3,1211.1 1951.3,1218.6 1951.9,1226.0 1952.1,1233.2 1951.9,1240.2 1951.3,1246.9 1950.3,1253.4 1948.9,1259.5 1947.2,1265.4 1945.0,1270.8 1942.5,1276.0" fill="none" stroke="#333" stroke-width="2.6" stroke-linejoin="round"/>
<polyline points="1801.4,1074.7 1806.9,1074.4 1812.6,1074.6 1818.5,1075.4 1824.4,1076.7 1830.5,1078.5 1836.6,1080.9 1842.8,1083.7 1849.0,1087.0 1855.2,1090.8 1861.3,1095.1 1867.3,1099.8 1873.3,1104.9 1879.1,1110.4 1884.8,1116.3 1890.3,1122.5 1895.6,1129.1 1900.6,1135.9 1905.4,1142.9 1910.0,1150.2 1914.2,1157.7 1918.1,1165.3 1921.7,1173.0 1925.0,1180.9 1927.8,1188.7 1930.3,1196.6 1932.5,1204.4 1934.2,1212.2 1935.5,1219.9 1936.4,1227.5 1936.9,1234.9 1936.9,1242.1 1936.6,1249.0 1935.8,1255.7 1934.6,1262.1 1933.0,1268.1 1931.0,1273.8 1928.7,1279.2 1925.9,1284.1 1922.8,1288.6 1919.3,1292.7" fill="none" stroke="#333" stroke-width="1.6" stroke-linejoin="round"/>
<line x1="1786.1" y1="1084.8" x2="1799.8" y2="1067.7" stroke="#333" stroke-width="1.3"/>
<line x1="1792.9" y1="1082.7" x2="1807.1" y2="1065.5" stroke="#333" stroke-width="1.3"/>
<line x1="1800.2" y1="1081.6" x2="1814.8" y2="1064.3" stroke="#333" stroke-width="1.3"/>
<line x1="1807.8" y1="1081.5" x2="1822.9" y2="1064.2" stroke="#333" stroke-width="1.3"/>
<line x1="1815.7" y1="1082.5" x2="1831.4" y2="1065.3" stroke="#333" stroke-width="1.3"/>
<line x1="1823.9" y1="1084.5" x2="1840.1" y2="1067.4" stroke="#333" stroke-width="1.3"/>
<line x1="1832.3" y1="1087.5" x2="1849.0" y2="1070.6" stroke="#333" stroke-width="1.3"/>
<line x1="1840.7" y1="1091.5" x2="1858.0" y2="1074.8" stroke="#333" stroke-width="1.3"/>
<line x1="1849.1" y1="1096.4" x2="1867.0" y2="1080.1" stroke="#333" stroke-width="1.3"/>
<line x1="1857.5" y1="1102.2" x2="1875.9" y2="1086.3" stroke="#333" stroke-width="1.3"/>
<line x1="1865.7" y1="1108.8" x2="1884.6" y2="1093.3" stroke="#333" stroke-width="1.3"/>
<line x1="1873.6" y1="1116.3" x2="1893.1" y2="1101.2" stroke="#333" stroke-width="1.3"/>
<line x1="1881.3" y1="1124.4" x2="1901.3" y2="1109.9" stroke="#333" stroke-width="1.3"/>
<line x1="1888.6" y1="1133.2" x2="1909.1" y2="1119.2" stroke="#333" stroke-width="1.3"/>
<line x1="1895.5" y1="1142.5" x2="1916.4" y2="1129.2" stroke="#333" stroke-width="1.3"/>
<line x1="1901.9" y1="1152.3" x2="1923.2" y2="1139.6" stroke="#333" stroke-width="1.3"/>
<line x1="1907.7" y1="1162.4" x2="1929.4" y2="1150.4" stroke="#333" stroke-width="1.3"/>
<line x1="1912.9" y1="1172.9" x2="1934.9" y2="1161.6" stroke="#333" stroke-width="1.3"/>
<line x1="1917.4" y1="1183.5" x2="1939.7" y2="1172.9" stroke="#333" stroke-width="1.3"/>
<line x1="1921.2" y1="1194.2" x2="1943.8" y2="1184.3" stroke="#333" stroke-width="1.3"/>
<line x1="1924.3" y1="1205.0" x2="1947.1" y2="1195.7" stroke="#333" stroke-width="1.3"/>
<line x1="1926.7" y1="1215.6" x2="1949.6" y2="1207.1" stroke="#333" stroke-width="1.3"/>
<line x1="1928.2" y1="1226.0" x2="1951.3" y2="1218.1" stroke="#333" stroke-width="1.3"/>
<line x1="1928.9" y1="1236.1" x2="1952.0" y2="1228.9" stroke="#333" stroke-width="1.3"/>
<line x1="1928.9" y1="1245.8" x2="1952.0" y2="1239.3" stroke="#333" stroke-width="1.3"/>
<line x1="1928.0" y1="1255.0" x2="1951.0" y2="1249.1" stroke="#333" stroke-width="1.3"/>
<line x1="1926.3" y1="1263.7" x2="1949.2" y2="1258.3" stroke="#333" stroke-width="1.3"/>
<line x1="1923.9" y1="1271.7" x2="1946.6" y2="1266.9" stroke="#333" stroke-width="1.3"/>
<line x1="1920.6" y1="1279.0" x2="1943.2" y2="1274.6" stroke="#333" stroke-width="1.3"/>
<line x1="1916.7" y1="1285.5" x2="1939.0" y2="1281.6" stroke="#333" stroke-width="1.3"/>
<polygon points="1812.5,1149.5 1795.6,1096.3 1823.3,1097.0 1840.2,1150.1" fill="#fff" stroke="#333" stroke-width="3.2" stroke-linejoin="round"/>
<polygon points="1817.8,1143.0 1803.8,1099.0 1824.9,1099.5 1838.9,1143.5" fill="none" stroke="#333" stroke-width="2.0" stroke-linejoin="round"/>
<polygon points="1823.2,1134.7 1813.3,1103.5 1826.5,1103.8 1836.3,1135.0" fill="none" stroke="#333" stroke-width="1.6" stroke-linejoin="round"/>
<polygon points="1825.1,1128.3 1819.3,1110.0 1824.5,1110.1 1830.4,1128.5" fill="none" stroke="#333" stroke-width="2.4" stroke-linejoin="round"/>
<polygon points="1848.5,1155.6 1873.2,1129.8 1897.6,1163.5 1872.9,1189.3" fill="#fff" stroke="#333" stroke-width="3.2" stroke-linejoin="round"/>
<polygon points="1857.0,1155.4 1877.4,1134.0 1896.0,1159.7 1875.6,1181.1" fill="none" stroke="#333" stroke-width="2.0" stroke-linejoin="round"/>
<polygon points="1866.9,1155.1 1881.4,1140.0 1893.0,1156.0 1878.5,1171.1" fill="none" stroke="#333" stroke-width="1.6" stroke-linejoin="round"/>
<polygon points="1873.4,1156.8 1881.9,1147.9 1886.5,1154.3 1878.0,1163.2" fill="none" stroke="#333" stroke-width="2.4" stroke-linejoin="round"/>
<polygon points="1876.3,1200.0 1917.8,1227.3 1914.5,1260.3 1873.0,1233.0" fill="#fff" stroke="#333" stroke-width="3.2" stroke-linejoin="round"/>
<polygon points="1882.9,1204.3 1917.3,1226.9 1914.8,1252.1 1880.4,1229.4" fill="none" stroke="#333" stroke-width="2.0" stroke-linejoin="round"/>
<polygon points="1890.9,1210.3 1915.3,1226.3 1913.7,1242.1 1889.4,1226.0" fill="none" stroke="#333" stroke-width="1.6" stroke-linejoin="round"/>
<polygon points="1895.5,1218.3 1909.8,1227.7 1909.2,1234.0 1894.9,1224.6" fill="none" stroke="#333" stroke-width="2.4" stroke-linejoin="round"/>
<polygon points="1868.0,1238.2 1884.9,1291.3 1857.2,1290.7 1840.4,1237.5" fill="#fff" stroke="#333" stroke-width="3.2" stroke-linejoin="round"/>
<polygon points="1869.7,1240.7 1883.6,1284.7 1862.5,1284.2 1848.6,1240.2" fill="none" stroke="#333" stroke-width="2.0" stroke-linejoin="round"/>
<polygon points="1871.2,1245.0 1881.1,1276.2 1867.9,1275.9 1858.0,1244.7" fill="none" stroke="#333" stroke-width="1.6" stroke-linejoin="round"/>
<polygon points="1869.3,1251.3 1875.1,1269.7 1869.8,1269.5 1864.0,1251.2" fill="none" stroke="#333" stroke-width="2.4" stroke-linejoin="round"/>
<polygon points="1832.0,1232.0 1807.3,1257.8 1782.9,1224.2 1807.6,1198.3" fill="#fff" stroke="#333" stroke-width="3.2" stroke-linejoin="round"/>
<polygon points="1830.5,1228.2 1810.0,1249.6 1791.4,1224.0 1811.9,1202.6" fill="none" stroke="#333" stroke-width="2.0" stroke-linejoin="round"/>
<polygon points="1827.5,1224.6 1813.0,1239.7 1801.4,1223.7 1815.8,1208.5" fill="none" stroke="#333" stroke-width="1.6" stroke-linejoin="round"/>
<polygon points="1821.0,1222.9 1812.5,1231.8 1807.8,1225.4 1816.3,1216.4" fill="none" stroke="#333" stroke-width="2.4" stroke-linejoin="round"/>
<polygon points="1804.2,1187.7 1762.7,1160.3 1766.0,1127.3 1807.5,1154.7" fill="#fff" stroke="#333" stroke-width="3.2" stroke-linejoin="round"/>
<polygon points="1804.5,1179.4 1770.1,1156.8 1772.6,1131.6 1807.0,1154.2" fill="none" stroke="#333" stroke-width="2.0" stroke-linejoin="round"/>
<polygon points="1803.4,1169.4 1779.1,1153.3 1780.6,1137.6 1805.0,1153.7" fill="none" stroke="#333" stroke-width="1.6" stroke-linejoin="round"/>
<polygon points="1798.9,1161.4 1784.6,1151.9 1785.2,1145.6 1799.5,1155.1" fill="none" stroke="#333" stroke-width="2.4" stroke-linejoin="round"/>
<polygon points="1814.8,1048.0 1815.3,1047.8 1815.9,1047.6 1816.5,1047.4 1817.2,1047.4 1817.8,1047.4 1818.5,1047.5 1819.2,1047.7 1820.0,1047.9 1820.7,1048.2 1821.4,1048.6 1822.2,1049.0 1822.9,1049.5 1823.6,1050.1 1824.3,1050.7 1825.0,1051.4 1825.7,1052.1 1826.3,1052.9 1826.9,1053.7 1827.5,1054.5 1828.0,1055.4 1828.5,1056.3 1828.9,1057.2 1829.3,1058.2 1829.7,1059.1 1830.0,1060.0 1830.2,1061.0 1830.4,1061.9 1830.5,1062.8 1830.6,1063.7 1830.6,1064.5 1830.6,1065.3 1830.4,1066.1 1830.3,1066.9 1830.1,1067.6 1829.8,1068.2 1829.5,1068.8 1829.1,1069.4 1828.7,1069.8 1828.2,1070.2 1827.7,1070.6 1812.1,1079.5 1811.6,1079.8 1811.0,1080.0 1810.4,1080.1 1809.7,1080.2 1809.0,1080.2 1808.3,1080.1 1807.6,1079.9 1806.9,1079.7 1806.2,1079.4 1805.4,1079.0 1804.7,1078.6 1804.0,1078.0 1803.2,1077.5 1802.5,1076.9 1801.9,1076.2 1801.2,1075.5 1800.6,1074.7 1800.0,1073.9 1799.4,1073.0 1798.9,1072.2 1798.4,1071.3 1797.9,1070.4 1797.5,1069.4 1797.2,1068.5 1796.9,1067.6 1796.7,1066.6 1796.5,1065.7 1796.3,1064.8 1796.3,1063.9 1796.3,1063.1 1796.3,1062.2 1796.4,1061.4 1796.6,1060.7 1796.8,1060.0 1797.1,1059.4 1797.4,1058.8 1797.7,1058.2 1798.2,1057.8 1798.6,1057.3 1799.1,1057.0" fill="#fff" stroke="#333" stroke-width="2.4" stroke-linejoin="round"/>
<ellipse cx="1805.6" cy="1068.3" rx="7.8" ry="13.0" transform="rotate(-29.9 1805.6 1068.3)" fill="#fff" stroke="#333" stroke-width="2.4"/>
<ellipse cx="1805.6" cy="1068.3" rx="4.2" ry="7.0" transform="rotate(-29.9 1805.6 1068.3)" fill="none" stroke="#333" stroke-width="2.0"/>
<polygon points="1763.6,1177.0 1764.2,1176.7 1764.8,1176.5 1765.4,1176.4 1766.0,1176.4 1766.7,1176.4 1767.4,1176.5 1768.1,1176.6 1768.9,1176.9 1769.6,1177.2 1770.3,1177.6 1771.1,1178.0 1771.8,1178.5 1772.5,1179.1 1773.2,1179.7 1773.9,1180.4 1774.6,1181.1 1775.2,1181.9 1775.8,1182.7 1776.4,1183.5 1776.9,1184.4 1777.4,1185.3 1777.8,1186.2 1778.2,1187.1 1778.6,1188.1 1778.8,1189.0 1779.1,1189.9 1779.3,1190.9 1779.4,1191.8 1779.5,1192.6 1779.5,1193.5 1779.4,1194.3 1779.3,1195.1 1779.2,1195.9 1779.0,1196.6 1778.7,1197.2 1778.4,1197.8 1778.0,1198.3 1777.6,1198.8 1777.1,1199.2 1776.6,1199.6 1761.0,1208.5 1760.4,1208.8 1759.9,1209.0 1759.2,1209.1 1758.6,1209.2 1757.9,1209.2 1757.2,1209.1 1756.5,1208.9 1755.8,1208.7 1755.1,1208.3 1754.3,1208.0 1753.6,1207.5 1752.9,1207.0 1752.1,1206.5 1751.4,1205.8 1750.8,1205.2 1750.1,1204.4 1749.5,1203.7 1748.9,1202.9 1748.3,1202.0 1747.8,1201.1 1747.3,1200.2 1746.8,1199.3 1746.4,1198.4 1746.1,1197.5 1745.8,1196.5 1745.6,1195.6 1745.4,1194.7 1745.2,1193.8 1745.2,1192.9 1745.2,1192.0 1745.2,1191.2 1745.3,1190.4 1745.5,1189.7 1745.7,1189.0 1745.9,1188.3 1746.3,1187.7 1746.6,1187.2 1747.1,1186.7 1747.5,1186.3 1748.0,1186.0" fill="#fff" stroke="#333" stroke-width="2.4" stroke-linejoin="round"/>
<ellipse cx="1754.5" cy="1197.3" rx="7.8" ry="13.0" transform="rotate(-29.9 1754.5 1197.3)" fill="#fff" stroke="#333" stroke-width="2.4"/>
<ellipse cx="1754.5" cy="1197.3" rx="4.2" ry="7.0" transform="rotate(-29.9 1754.5 1197.3)" fill="none" stroke="#333" stroke-width="2.0"/>
<polygon points="1948.2,1209.0 1948.7,1208.7 1949.3,1208.5 1949.9,1208.4 1950.6,1208.3 1951.3,1208.3 1952.0,1208.4 1952.7,1208.6 1953.4,1208.8 1954.1,1209.1 1954.9,1209.5 1955.6,1210.0 1956.3,1210.5 1957.0,1211.0 1957.8,1211.7 1958.4,1212.3 1959.1,1213.1 1959.7,1213.8 1960.3,1214.6 1960.9,1215.5 1961.4,1216.4 1961.9,1217.3 1962.4,1218.2 1962.8,1219.1 1963.1,1220.0 1963.4,1221.0 1963.6,1221.9 1963.8,1222.8 1963.9,1223.7 1964.0,1224.6 1964.0,1225.5 1964.0,1226.3 1963.9,1227.1 1963.7,1227.8 1963.5,1228.5 1963.2,1229.2 1962.9,1229.8 1962.5,1230.3 1962.1,1230.8 1961.7,1231.2 1961.1,1231.5 1945.5,1240.5 1945.0,1240.8 1944.4,1241.0 1943.8,1241.1 1943.1,1241.1 1942.5,1241.1 1941.8,1241.0 1941.1,1240.9 1940.3,1240.6 1939.6,1240.3 1938.9,1239.9 1938.1,1239.5 1937.4,1239.0 1936.7,1238.4 1936.0,1237.8 1935.3,1237.1 1934.6,1236.4 1934.0,1235.6 1933.4,1234.8 1932.8,1234.0 1932.3,1233.1 1931.8,1232.2 1931.4,1231.3 1931.0,1230.4 1930.6,1229.4 1930.3,1228.5 1930.1,1227.6 1929.9,1226.6 1929.8,1225.7 1929.7,1224.9 1929.7,1224.0 1929.7,1223.2 1929.8,1222.4 1930.0,1221.6 1930.2,1220.9 1930.5,1220.3 1930.8,1219.7 1931.2,1219.2 1931.6,1218.7 1932.1,1218.3 1932.6,1217.9" fill="#fff" stroke="#333" stroke-width="2.4" stroke-linejoin="round"/>
<ellipse cx="1939.1" cy="1229.2" rx="7.8" ry="13.0" transform="rotate(-29.9 1939.1 1229.2)" fill="#fff" stroke="#333" stroke-width="2.4"/>
<ellipse cx="1939.1" cy="1229.2" rx="4.2" ry="7.0" transform="rotate(-29.9 1939.1 1229.2)" fill="none" stroke="#333" stroke-width="2.0"/>
<ellipse cx="1840.3" cy="1193.8" rx="19.8" ry="33.0" transform="rotate(-29.9 1840.3 1193.8)" fill="#fff" stroke="#333" stroke-width="1.8"/>
<polyline points="1834.2,1159.2 1835.4,1158.6 1836.6,1158.2 1837.9,1157.9 1839.2,1157.7 1840.6,1157.6 1842.0,1157.6 1843.5,1157.8 1845.0,1158.1 1846.5,1158.6 1848.1,1159.1 1849.6,1159.8 1851.2,1160.6 1852.7,1161.6 1854.3,1162.6 1855.8,1163.7 1857.3,1165.0 1858.8,1166.3 1860.2,1167.8 1861.6,1169.3 1863.0,1170.9 1864.3,1172.6 1865.5,1174.3 1866.7,1176.1 1867.8,1178.0 1868.9,1179.9 1869.8,1181.8 1870.7,1183.7 1871.5,1185.7 1872.2,1187.7 1872.8,1189.7 1873.3,1191.6 1873.7,1193.6 1874.1,1195.5 1874.3,1197.4 1874.4,1199.3 1874.4,1201.1 1874.3,1202.8 1874.2,1204.5 1873.9,1206.1 1873.5,1207.7" fill="none" stroke="#333" stroke-width="1.4" stroke-linejoin="round"/>
<polygon points="1642.2,1246.6 1644.4,1245.5 1646.8,1244.7 1649.4,1244.1 1652.0,1243.9 1654.7,1244.0 1657.6,1244.4 1660.5,1245.1 1663.4,1246.0 1666.4,1247.3 1669.4,1248.8 1672.4,1250.6 1675.4,1252.7 1678.3,1255.0 1681.2,1257.5 1684.0,1260.3 1686.7,1263.2 1689.2,1266.4 1691.7,1269.7 1694.0,1273.1 1696.2,1276.7 1698.2,1280.3 1700.0,1284.1 1701.6,1287.8 1703.0,1291.6 1704.2,1295.5 1705.2,1299.3 1705.9,1303.0 1706.4,1306.7 1706.7,1310.3 1706.8,1313.8 1706.6,1317.2 1706.2,1320.4 1705.5,1323.4 1704.7,1326.3 1703.6,1328.9 1702.3,1331.3 1700.7,1333.5 1699.0,1335.4 1697.1,1337.1 1695.0,1338.5 1663.0,1356.9 1660.7,1358.0 1658.3,1358.8 1655.8,1359.3 1653.1,1359.6 1650.4,1359.5 1647.6,1359.1 1644.7,1358.4 1641.7,1357.5 1638.7,1356.2 1635.7,1354.7 1632.7,1352.9 1629.8,1350.8 1626.8,1348.5 1624.0,1346.0 1621.2,1343.2 1618.5,1340.2 1615.9,1337.1 1613.4,1333.8 1611.1,1330.4 1609.0,1326.8 1607.0,1323.2 1605.2,1319.4 1603.6,1315.7 1602.2,1311.8 1601.0,1308.0 1600.0,1304.2 1599.2,1300.5 1598.7,1296.8 1598.4,1293.2 1598.4,1289.7 1598.5,1286.3 1599.0,1283.1 1599.6,1280.1 1600.5,1277.2 1601.6,1274.6 1602.9,1272.2 1604.4,1270.0 1606.1,1268.1 1608.0,1266.4 1610.1,1265.0" fill="#fff" stroke="#333" stroke-width="2.0" stroke-linejoin="round"/>
<ellipse cx="1636.5" cy="1311.0" rx="31.8" ry="53.0" transform="rotate(-29.9 1636.5 1311.0)" fill="#fff" stroke="#333" stroke-width="2.0"/>
<ellipse cx="1636.5" cy="1311.0" rx="28.8" ry="48.0" transform="rotate(-29.9 1636.5 1311.0)" fill="none" stroke="#333" stroke-width="1.6"/>
<ellipse cx="1636.5" cy="1311.0" rx="25.2" ry="42.0" transform="rotate(-29.9 1636.5 1311.0)" fill="none" stroke="#333" stroke-width="2.0"/>
<ellipse cx="1636.5" cy="1311.0" rx="20.4" ry="34.0" transform="rotate(-29.9 1636.5 1311.0)" fill="none" stroke="#333" stroke-width="1.6"/>
<ellipse cx="1636.5" cy="1311.0" rx="17.4" ry="29.0" transform="rotate(-29.9 1636.5 1311.0)" fill="#fff" stroke="#333" stroke-width="2.4"/>
<line x1="1640.0" y1="1309.0" x2="1662.5" y2="1296.0" stroke="#333" stroke-width="1.6"/>
<polygon points="1558.6,1352.4 1560.5,1355.7 1569.6,1358.4 1572.8,1364.5 1569.7,1372.9 1571.4,1376.3 1573.0,1379.7 1582.2,1384.0 1584.9,1390.2 1580.7,1397.4 1582.0,1400.9 1583.3,1404.4 1592.6,1410.0 1594.7,1416.3 1589.4,1422.3 1590.4,1425.8 1591.4,1429.2 1600.5,1436.2 1602.0,1442.5 1595.7,1447.0 1596.4,1450.4 1597.0,1453.9 1605.8,1462.1 1606.7,1468.2 1599.5,1471.2 1599.8,1474.5 1600.1,1477.8 1608.4,1487.1 1608.6,1492.9 1600.7,1494.4 1600.7,1497.5 1600.6,1500.6 1608.2,1510.8 1607.8,1516.3 1599.3,1516.2 1598.9,1519.1 1598.5,1522.0 1605.3,1532.8 1604.2,1537.8 1595.4,1536.2 1594.6,1538.8 1593.8,1541.4 1599.7,1552.8 1598.0,1557.2 1588.9,1554.0 1587.8,1556.3 1586.6,1558.6 1591.6,1570.3 1589.2,1574.1 1580.0,1569.4 1578.5,1571.3 1577.1,1573.2 1580.9,1585.0 1578.0,1588.1 1568.8,1582.0 1567.1,1583.5 1565.3,1585.0 1568.1,1596.7 1564.7,1599.0 1555.7,1591.6 1553.7,1592.7 1551.6,1593.8 1553.1,1605.2 1549.3,1606.7 1540.7,1598.2 1538.4,1598.8 1536.2,1599.4 1536.5,1610.3 1532.2,1611.0 1524.2,1601.4 1521.7,1601.6 1519.3,1601.7 1518.3,1611.9 1513.8,1611.8 1506.4,1601.4 1503.8,1601.1 1501.2,1600.8 1499.1,1610.0 1494.3,1609.0 1487.7,1598.0 1485.0,1597.3 1482.4,1596.5 1479.0,1604.7 1474.1,1602.9 1468.4,1591.4 1465.7,1590.2 1463.0,1589.0 1458.5,1595.9 1453.5,1593.4 1448.9,1581.6 1446.2,1580.0 1443.4,1578.3 1437.9,1584.0 1433.0,1580.7 1429.5,1568.9 1426.8,1566.9 1424.1,1564.8 1417.6,1569.1 1412.8,1565.1 1410.5,1553.4 1407.9,1551.1 1405.3,1548.7 1398.0,1551.4 1393.4,1546.8 1392.3,1535.5 1389.8,1532.8 1387.4,1530.1 1379.4,1531.3 1375.1,1526.1 1375.2,1515.5 1372.9,1512.5 1370.7,1509.5 1362.1,1509.1 1358.2,1503.5 1359.5,1493.6 1357.5,1490.5 1355.4,1487.3 1346.5,1485.3 1343.0,1479.4 1345.6,1470.4 1343.7,1467.1 1342.0,1463.7 1332.8,1460.2 1329.8,1454.1 1333.5,1446.2 1332.0,1442.8 1330.5,1439.3 1321.3,1434.3 1318.8,1428.1 1323.6,1421.5 1322.4,1418.0 1321.3,1414.5 1312.1,1408.1 1310.3,1401.8 1316.1,1396.6 1315.2,1393.1 1314.4,1389.7 1305.5,1382.1 1304.3,1375.9 1311.0,1372.1 1310.5,1368.7 1310.1,1365.4 1301.5,1356.6 1301.0,1350.6 1308.5,1348.4 1308.4,1345.1 1308.3,1341.9 1300.3,1332.2 1300.4,1326.5 1308.6,1325.8 1308.8,1322.8 1309.1,1319.8 1301.8,1309.2 1302.6,1304.0 1311.3,1304.9 1311.9,1302.1 1312.5,1299.4 1306.1,1288.2 1307.5,1283.5 1316.6,1285.9 1317.5,1283.5 1318.5,1281.0 1313.0,1269.5 1315.0,1265.3 1324.3,1269.3 1325.5,1267.2 1326.9,1265.1 1322.4,1253.3 1325.0,1249.9 1334.3,1255.3 1335.9,1253.5 1337.5,1251.8 1334.2,1240.1 1337.4,1237.3 1346.5,1244.1 1348.4,1242.8 1350.3,1241.5 1348.1,1229.9 1351.8,1228.0 1360.6,1236.0 1362.7,1235.1 1364.9,1234.3 1364.0,1223.1 1368.0,1222.0 1376.4,1231.1 1378.7,1230.7 1381.1,1230.3 1381.4,1219.8 1385.8,1219.5 1393.6,1229.5 1396.1,1229.5 1398.6,1229.6 1400.1,1219.9 1404.8,1220.5 1411.8,1231.2 1414.4,1231.7 1417.1,1232.3 1419.9,1223.5 1424.7,1224.9 1430.8,1236.2 1433.6,1237.2 1436.3,1238.2 1440.2,1230.6 1445.1,1232.8 1450.3,1244.4 1453.0,1245.8 1455.8,1247.3 1460.8,1240.9 1465.7,1243.9 1469.8,1255.7 1472.5,1257.5 1475.2,1259.4 1481.3,1254.4 1486.1,1258.1 1489.1,1269.8 1491.7,1272.0 1494.4,1274.2 1501.3,1270.7 1505.9,1275.1 1507.7,1286.5 1510.2,1289.1 1512.8,1291.6 1520.4,1289.7 1524.9,1294.6 1525.4,1305.6 1527.8,1308.4 1530.1,1311.2 1538.4,1310.9 1542.5,1316.2 1541.8,1326.5 1544.0,1329.6 1546.1,1332.7 1554.9,1333.9 1558.6,1339.7 1556.7,1349.1" fill="#fff" stroke="#333" stroke-width="1.8" stroke-linejoin="round"/>
<polygon points="1299.8,1270.7 1301.7,1269.4 1350.3,1241.5 1348.4,1242.8" fill="#fff" stroke="#333" stroke-width="1.7" stroke-linejoin="round"/>
<line x1="1300.8" y1="1270.1" x2="1349.3" y2="1242.1" stroke="#333" stroke-width="1.1"/>
<polygon points="1505.1,1620.7 1503.1,1621.7 1551.6,1593.8 1553.7,1592.7" fill="#fff" stroke="#333" stroke-width="1.7" stroke-linejoin="round"/>
<line x1="1504.1" y1="1621.2" x2="1552.6" y2="1593.3" stroke="#333" stroke-width="1.1"/>
<polygon points="1301.7,1269.4 1299.6,1257.9 1348.1,1229.9 1350.3,1241.5" fill="#fff" stroke="#333" stroke-width="1.7" stroke-linejoin="round"/>
<line x1="1300.6" y1="1263.6" x2="1349.2" y2="1235.7" stroke="#333" stroke-width="1.1"/>
<polygon points="1507.1,1619.6 1505.1,1620.7 1553.7,1592.7 1555.7,1591.6" fill="#fff" stroke="#333" stroke-width="1.7" stroke-linejoin="round"/>
<line x1="1506.1" y1="1620.1" x2="1554.7" y2="1592.2" stroke="#333" stroke-width="1.1"/>
<polygon points="1516.1,1626.9 1507.1,1619.6 1555.7,1591.6 1564.7,1599.0" fill="#fff" stroke="#333" stroke-width="1.7" stroke-linejoin="round"/>
<line x1="1511.6" y1="1623.3" x2="1560.2" y2="1595.3" stroke="#333" stroke-width="1.1"/>
<polygon points="1299.6,1257.9 1303.2,1255.9 1351.8,1228.0 1348.1,1229.9" fill="#fff" stroke="#333" stroke-width="1.7" stroke-linejoin="round"/>
<line x1="1301.4" y1="1256.9" x2="1349.9" y2="1229.0" stroke="#333" stroke-width="1.1"/>
<polygon points="1519.5,1624.6 1516.1,1626.9 1564.7,1599.0 1568.1,1596.7" fill="#fff" stroke="#333" stroke-width="1.7" stroke-linejoin="round"/>
<line x1="1517.8" y1="1625.8" x2="1566.4" y2="1597.9" stroke="#333" stroke-width="1.1"/>
<polygon points="1303.2,1255.9 1312.0,1263.9 1360.6,1236.0 1351.8,1228.0" fill="#fff" stroke="#333" stroke-width="1.7" stroke-linejoin="round"/>
<line x1="1307.6" y1="1259.9" x2="1356.2" y2="1232.0" stroke="#333" stroke-width="1.1"/>
<polygon points="1312.0,1263.9 1314.2,1263.0 1362.7,1235.1 1360.6,1236.0" fill="#fff" stroke="#333" stroke-width="1.7" stroke-linejoin="round"/>
<line x1="1313.1" y1="1263.5" x2="1361.7" y2="1235.6" stroke="#333" stroke-width="1.1"/>
<polygon points="1516.8,1612.9 1519.5,1624.6 1568.1,1596.7 1565.3,1585.0" fill="#fff" stroke="#333" stroke-width="1.7" stroke-linejoin="round"/>
<line x1="1518.1" y1="1618.8" x2="1566.7" y2="1590.8" stroke="#333" stroke-width="1.1"/>
<polygon points="1314.2,1263.0 1316.3,1262.2 1364.9,1234.3 1362.7,1235.1" fill="#fff" stroke="#333" stroke-width="1.7" stroke-linejoin="round"/>
<line x1="1315.2" y1="1262.6" x2="1363.8" y2="1234.7" stroke="#333" stroke-width="1.1"/>
<polygon points="1518.6,1611.4 1516.8,1612.9 1565.3,1585.0 1567.1,1583.5" fill="#fff" stroke="#333" stroke-width="1.7" stroke-linejoin="round"/>
<line x1="1517.7" y1="1612.2" x2="1566.2" y2="1584.3" stroke="#333" stroke-width="1.1"/>
<polygon points="1316.3,1262.2 1315.4,1251.1 1364.0,1223.1 1364.9,1234.3" fill="#fff" stroke="#333" stroke-width="1.7" stroke-linejoin="round"/>
<line x1="1315.9" y1="1256.6" x2="1364.4" y2="1228.7" stroke="#333" stroke-width="1.1"/>
<polygon points="1520.3,1609.9 1518.6,1611.4 1567.1,1583.5 1568.8,1582.0" fill="#fff" stroke="#333" stroke-width="1.7" stroke-linejoin="round"/>
<line x1="1519.4" y1="1610.7" x2="1568.0" y2="1582.8" stroke="#333" stroke-width="1.1"/>
<polygon points="1529.5,1616.0 1520.3,1609.9 1568.8,1582.0 1578.0,1588.1" fill="#fff" stroke="#333" stroke-width="1.7" stroke-linejoin="round"/>
<line x1="1524.9" y1="1612.9" x2="1573.4" y2="1585.0" stroke="#333" stroke-width="1.1"/>
<polygon points="1315.4,1251.1 1319.5,1249.9 1368.0,1222.0 1364.0,1223.1" fill="#fff" stroke="#333" stroke-width="1.7" stroke-linejoin="round"/>
<line x1="1317.4" y1="1250.5" x2="1366.0" y2="1222.6" stroke="#333" stroke-width="1.1"/>
<polygon points="1532.4,1612.9 1529.5,1616.0 1578.0,1588.1 1580.9,1585.0" fill="#fff" stroke="#333" stroke-width="1.7" stroke-linejoin="round"/>
<line x1="1530.9" y1="1614.4" x2="1579.5" y2="1586.5" stroke="#333" stroke-width="1.1"/>
<polygon points="1319.5,1249.9 1327.8,1259.0 1376.4,1231.1 1368.0,1222.0" fill="#fff" stroke="#333" stroke-width="1.7" stroke-linejoin="round"/>
<line x1="1323.6" y1="1254.5" x2="1372.2" y2="1226.6" stroke="#333" stroke-width="1.1"/>
<polygon points="1327.8,1259.0 1330.2,1258.6 1378.7,1230.7 1376.4,1231.1" fill="#fff" stroke="#333" stroke-width="1.7" stroke-linejoin="round"/>
<line x1="1329.0" y1="1258.8" x2="1377.5" y2="1230.9" stroke="#333" stroke-width="1.1"/>
<polygon points="1528.5,1601.1 1532.4,1612.9 1580.9,1585.0 1577.1,1573.2" fill="#fff" stroke="#333" stroke-width="1.7" stroke-linejoin="round"/>
<line x1="1530.5" y1="1607.0" x2="1579.0" y2="1579.1" stroke="#333" stroke-width="1.1"/>
<polygon points="1330.2,1258.6 1332.5,1258.2 1381.1,1230.3 1378.7,1230.7" fill="#fff" stroke="#333" stroke-width="1.7" stroke-linejoin="round"/>
<line x1="1331.3" y1="1258.4" x2="1379.9" y2="1230.5" stroke="#333" stroke-width="1.1"/>
<polygon points="1530.0,1599.2 1528.5,1601.1 1577.1,1573.2 1578.5,1571.3" fill="#fff" stroke="#333" stroke-width="1.7" stroke-linejoin="round"/>
<line x1="1529.3" y1="1600.2" x2="1577.8" y2="1572.2" stroke="#333" stroke-width="1.1"/>
<polygon points="1332.5,1258.2 1332.9,1247.7 1381.4,1219.8 1381.1,1230.3" fill="#fff" stroke="#333" stroke-width="1.7" stroke-linejoin="round"/>
<line x1="1332.7" y1="1253.0" x2="1381.2" y2="1225.0" stroke="#333" stroke-width="1.1"/>
<polygon points="1531.4,1597.3 1530.0,1599.2 1578.5,1571.3 1580.0,1569.4" fill="#fff" stroke="#333" stroke-width="1.7" stroke-linejoin="round"/>
<line x1="1530.7" y1="1598.2" x2="1579.2" y2="1570.3" stroke="#333" stroke-width="1.1"/>
<polygon points="1540.7,1602.0 1531.4,1597.3 1580.0,1569.4 1589.2,1574.1" fill="#fff" stroke="#333" stroke-width="1.7" stroke-linejoin="round"/>
<line x1="1536.1" y1="1599.6" x2="1584.6" y2="1571.7" stroke="#333" stroke-width="1.1"/>
<polygon points="1332.9,1247.7 1337.2,1247.4 1385.8,1219.5 1381.4,1219.8" fill="#fff" stroke="#333" stroke-width="1.7" stroke-linejoin="round"/>
<line x1="1335.0" y1="1247.6" x2="1383.6" y2="1219.6" stroke="#333" stroke-width="1.1"/>
<polygon points="1543.0,1598.2 1540.7,1602.0 1589.2,1574.1 1591.6,1570.3" fill="#fff" stroke="#333" stroke-width="1.7" stroke-linejoin="round"/>
<line x1="1541.9" y1="1600.1" x2="1590.4" y2="1572.2" stroke="#333" stroke-width="1.1"/>
<polygon points="1337.2,1247.4 1345.0,1257.4 1393.6,1229.5 1385.8,1219.5" fill="#fff" stroke="#333" stroke-width="1.7" stroke-linejoin="round"/>
<line x1="1341.1" y1="1252.4" x2="1389.7" y2="1224.5" stroke="#333" stroke-width="1.1"/>
<polygon points="1345.0,1257.4 1347.5,1257.4 1396.1,1229.5 1393.6,1229.5" fill="#fff" stroke="#333" stroke-width="1.7" stroke-linejoin="round"/>
<line x1="1346.3" y1="1257.4" x2="1394.8" y2="1229.5" stroke="#333" stroke-width="1.1"/>
<polygon points="1538.1,1586.5 1543.0,1598.2 1591.6,1570.3 1586.6,1558.6" fill="#fff" stroke="#333" stroke-width="1.7" stroke-linejoin="round"/>
<line x1="1540.5" y1="1592.3" x2="1589.1" y2="1564.4" stroke="#333" stroke-width="1.1"/>
<polygon points="1347.5,1257.4 1350.0,1257.6 1398.6,1229.6 1396.1,1229.5" fill="#fff" stroke="#333" stroke-width="1.7" stroke-linejoin="round"/>
<line x1="1348.8" y1="1257.5" x2="1397.3" y2="1229.6" stroke="#333" stroke-width="1.1"/>
<polygon points="1539.2,1584.2 1538.1,1586.5 1586.6,1558.6 1587.8,1556.3" fill="#fff" stroke="#333" stroke-width="1.7" stroke-linejoin="round"/>
<line x1="1538.6" y1="1585.3" x2="1587.2" y2="1557.4" stroke="#333" stroke-width="1.1"/>
<polygon points="1350.0,1257.6 1351.6,1247.8 1400.1,1219.9 1398.6,1229.6" fill="#fff" stroke="#333" stroke-width="1.7" stroke-linejoin="round"/>
<line x1="1350.8" y1="1252.7" x2="1399.4" y2="1224.8" stroke="#333" stroke-width="1.1"/>
<polygon points="1540.3,1581.9 1539.2,1584.2 1587.8,1556.3 1588.9,1554.0" fill="#fff" stroke="#333" stroke-width="1.7" stroke-linejoin="round"/>
<line x1="1539.8" y1="1583.1" x2="1588.3" y2="1555.1" stroke="#333" stroke-width="1.1"/>
<polygon points="1549.5,1585.1 1540.3,1581.9 1588.9,1554.0 1598.0,1557.2" fill="#fff" stroke="#333" stroke-width="1.7" stroke-linejoin="round"/>
<line x1="1544.9" y1="1583.5" x2="1593.4" y2="1555.6" stroke="#333" stroke-width="1.1"/>
<polygon points="1351.6,1247.8 1356.3,1248.4 1404.8,1220.5 1400.1,1219.9" fill="#fff" stroke="#333" stroke-width="1.7" stroke-linejoin="round"/>
<line x1="1353.9" y1="1248.1" x2="1402.5" y2="1220.2" stroke="#333" stroke-width="1.1"/>
<polygon points="1551.2,1580.7 1549.5,1585.1 1598.0,1557.2 1599.7,1552.8" fill="#fff" stroke="#333" stroke-width="1.7" stroke-linejoin="round"/>
<line x1="1550.3" y1="1582.9" x2="1598.9" y2="1555.0" stroke="#333" stroke-width="1.1"/>
<polygon points="1356.3,1248.4 1363.3,1259.1 1411.8,1231.2 1404.8,1220.5" fill="#fff" stroke="#333" stroke-width="1.7" stroke-linejoin="round"/>
<line x1="1359.8" y1="1253.7" x2="1408.3" y2="1225.8" stroke="#333" stroke-width="1.1"/>
<polygon points="1363.3,1259.1 1365.9,1259.6 1414.4,1231.7 1411.8,1231.2" fill="#fff" stroke="#333" stroke-width="1.7" stroke-linejoin="round"/>
<line x1="1364.6" y1="1259.4" x2="1413.1" y2="1231.5" stroke="#333" stroke-width="1.1"/>
<polygon points="1545.2,1569.3 1551.2,1580.7 1599.7,1552.8 1593.8,1541.4" fill="#fff" stroke="#333" stroke-width="1.7" stroke-linejoin="round"/>
<line x1="1548.2" y1="1575.0" x2="1596.8" y2="1547.1" stroke="#333" stroke-width="1.1"/>
<polygon points="1365.9,1259.6 1368.5,1260.2 1417.1,1232.3 1414.4,1231.7" fill="#fff" stroke="#333" stroke-width="1.7" stroke-linejoin="round"/>
<line x1="1367.2" y1="1259.9" x2="1415.8" y2="1232.0" stroke="#333" stroke-width="1.1"/>
<polygon points="1546.0,1566.7 1545.2,1569.3 1593.8,1541.4 1594.6,1538.8" fill="#fff" stroke="#333" stroke-width="1.7" stroke-linejoin="round"/>
<line x1="1545.6" y1="1568.0" x2="1594.2" y2="1540.1" stroke="#333" stroke-width="1.1"/>
<polygon points="1368.5,1260.2 1371.3,1251.4 1419.9,1223.5 1417.1,1232.3" fill="#fff" stroke="#333" stroke-width="1.7" stroke-linejoin="round"/>
<line x1="1369.9" y1="1255.8" x2="1418.5" y2="1227.9" stroke="#333" stroke-width="1.1"/>
<polygon points="1546.8,1564.1 1546.0,1566.7 1594.6,1538.8 1595.4,1536.2" fill="#fff" stroke="#333" stroke-width="1.7" stroke-linejoin="round"/>
<line x1="1546.4" y1="1565.4" x2="1595.0" y2="1537.5" stroke="#333" stroke-width="1.1"/>
<polygon points="1555.7,1565.7 1546.8,1564.1 1595.4,1536.2 1604.2,1537.8" fill="#fff" stroke="#333" stroke-width="1.7" stroke-linejoin="round"/>
<line x1="1551.2" y1="1564.9" x2="1599.8" y2="1537.0" stroke="#333" stroke-width="1.1"/>
<polygon points="1371.3,1251.4 1376.2,1252.8 1424.7,1224.9 1419.9,1223.5" fill="#fff" stroke="#333" stroke-width="1.7" stroke-linejoin="round"/>
<line x1="1373.7" y1="1252.1" x2="1422.3" y2="1224.2" stroke="#333" stroke-width="1.1"/>
<polygon points="1556.8,1560.7 1555.7,1565.7 1604.2,1537.8 1605.3,1532.8" fill="#fff" stroke="#333" stroke-width="1.7" stroke-linejoin="round"/>
<line x1="1556.2" y1="1563.2" x2="1604.8" y2="1535.3" stroke="#333" stroke-width="1.1"/>
<polygon points="1376.2,1252.8 1382.3,1264.1 1430.8,1236.2 1424.7,1224.9" fill="#fff" stroke="#333" stroke-width="1.7" stroke-linejoin="round"/>
<line x1="1379.2" y1="1258.5" x2="1427.8" y2="1230.6" stroke="#333" stroke-width="1.1"/>
<polygon points="1382.3,1264.1 1385.0,1265.1 1433.6,1237.2 1430.8,1236.2" fill="#fff" stroke="#333" stroke-width="1.7" stroke-linejoin="round"/>
<line x1="1383.7" y1="1264.6" x2="1432.2" y2="1236.7" stroke="#333" stroke-width="1.1"/>
<polygon points="1549.9,1549.9 1556.8,1560.7 1605.3,1532.8 1598.5,1522.0" fill="#fff" stroke="#333" stroke-width="1.7" stroke-linejoin="round"/>
<line x1="1553.4" y1="1555.3" x2="1601.9" y2="1527.4" stroke="#333" stroke-width="1.1"/>
<polygon points="1385.0,1265.1 1387.7,1266.1 1436.3,1238.2 1433.6,1237.2" fill="#fff" stroke="#333" stroke-width="1.7" stroke-linejoin="round"/>
<line x1="1386.4" y1="1265.6" x2="1434.9" y2="1237.7" stroke="#333" stroke-width="1.1"/>
<polygon points="1550.4,1547.0 1549.9,1549.9 1598.5,1522.0 1598.9,1519.1" fill="#fff" stroke="#333" stroke-width="1.7" stroke-linejoin="round"/>
<line x1="1550.2" y1="1548.4" x2="1598.7" y2="1520.5" stroke="#333" stroke-width="1.1"/>
<polygon points="1387.7,1266.1 1391.6,1258.5 1440.2,1230.6 1436.3,1238.2" fill="#fff" stroke="#333" stroke-width="1.7" stroke-linejoin="round"/>
<line x1="1389.7" y1="1262.3" x2="1438.2" y2="1234.4" stroke="#333" stroke-width="1.1"/>
<polygon points="1550.8,1544.1 1550.4,1547.0 1598.9,1519.1 1599.3,1516.2" fill="#fff" stroke="#333" stroke-width="1.7" stroke-linejoin="round"/>
<line x1="1550.6" y1="1545.5" x2="1599.1" y2="1517.6" stroke="#333" stroke-width="1.1"/>
<polygon points="1559.2,1544.2 1550.8,1544.1 1599.3,1516.2 1607.8,1516.3" fill="#fff" stroke="#333" stroke-width="1.7" stroke-linejoin="round"/>
<line x1="1555.0" y1="1544.1" x2="1603.6" y2="1516.2" stroke="#333" stroke-width="1.1"/>
<polygon points="1391.6,1258.5 1396.6,1260.7 1445.1,1232.8 1440.2,1230.6" fill="#fff" stroke="#333" stroke-width="1.7" stroke-linejoin="round"/>
<line x1="1394.1" y1="1259.6" x2="1442.7" y2="1231.7" stroke="#333" stroke-width="1.1"/>
<polygon points="1559.7,1538.7 1559.2,1544.2 1607.8,1516.3 1608.2,1510.8" fill="#fff" stroke="#333" stroke-width="1.7" stroke-linejoin="round"/>
<line x1="1559.5" y1="1541.4" x2="1608.0" y2="1513.5" stroke="#333" stroke-width="1.1"/>
<polygon points="1396.6,1260.7 1401.7,1272.3 1450.3,1244.4 1445.1,1232.8" fill="#fff" stroke="#333" stroke-width="1.7" stroke-linejoin="round"/>
<line x1="1399.2" y1="1266.5" x2="1447.7" y2="1238.6" stroke="#333" stroke-width="1.1"/>
<polygon points="1401.7,1272.3 1404.5,1273.7 1453.0,1245.8 1450.3,1244.4" fill="#fff" stroke="#333" stroke-width="1.7" stroke-linejoin="round"/>
<line x1="1403.1" y1="1273.0" x2="1451.7" y2="1245.1" stroke="#333" stroke-width="1.1"/>
<polygon points="1552.1,1528.6 1559.7,1538.7 1608.2,1510.8 1600.6,1500.6" fill="#fff" stroke="#333" stroke-width="1.7" stroke-linejoin="round"/>
<line x1="1555.9" y1="1533.6" x2="1604.4" y2="1505.7" stroke="#333" stroke-width="1.1"/>
<polygon points="1404.5,1273.7 1407.2,1275.2 1455.8,1247.3 1453.0,1245.8" fill="#fff" stroke="#333" stroke-width="1.7" stroke-linejoin="round"/>
<line x1="1405.9" y1="1274.5" x2="1454.4" y2="1246.5" stroke="#333" stroke-width="1.1"/>
<polygon points="1552.1,1525.4 1552.1,1528.6 1600.6,1500.6 1600.7,1497.5" fill="#fff" stroke="#333" stroke-width="1.7" stroke-linejoin="round"/>
<line x1="1552.1" y1="1527.0" x2="1600.6" y2="1499.1" stroke="#333" stroke-width="1.1"/>
<polygon points="1407.2,1275.2 1412.2,1268.8 1460.8,1240.9 1455.8,1247.3" fill="#fff" stroke="#333" stroke-width="1.7" stroke-linejoin="round"/>
<line x1="1409.7" y1="1272.0" x2="1458.3" y2="1244.1" stroke="#333" stroke-width="1.1"/>
<polygon points="1552.2,1522.3 1552.1,1525.4 1600.7,1497.5 1600.7,1494.4" fill="#fff" stroke="#333" stroke-width="1.7" stroke-linejoin="round"/>
<line x1="1552.2" y1="1523.9" x2="1600.7" y2="1496.0" stroke="#333" stroke-width="1.1"/>
<polygon points="1560.1,1520.8 1552.2,1522.3 1600.7,1494.4 1608.6,1492.9" fill="#fff" stroke="#333" stroke-width="1.7" stroke-linejoin="round"/>
<line x1="1556.1" y1="1521.6" x2="1604.7" y2="1493.6" stroke="#333" stroke-width="1.1"/>
<polygon points="1412.2,1268.8 1417.2,1271.8 1465.7,1243.9 1460.8,1240.9" fill="#fff" stroke="#333" stroke-width="1.7" stroke-linejoin="round"/>
<line x1="1414.7" y1="1270.3" x2="1463.3" y2="1242.4" stroke="#333" stroke-width="1.1"/>
<polygon points="1559.8,1515.0 1560.1,1520.8 1608.6,1492.9 1608.4,1487.1" fill="#fff" stroke="#333" stroke-width="1.7" stroke-linejoin="round"/>
<line x1="1559.9" y1="1517.9" x2="1608.5" y2="1490.0" stroke="#333" stroke-width="1.1"/>
<polygon points="1417.2,1271.8 1421.3,1283.6 1469.8,1255.7 1465.7,1243.9" fill="#fff" stroke="#333" stroke-width="1.7" stroke-linejoin="round"/>
<line x1="1419.2" y1="1277.7" x2="1467.8" y2="1249.8" stroke="#333" stroke-width="1.1"/>
<polygon points="1421.3,1283.6 1424.0,1285.4 1472.5,1257.5 1469.8,1255.7" fill="#fff" stroke="#333" stroke-width="1.7" stroke-linejoin="round"/>
<line x1="1422.6" y1="1284.5" x2="1471.2" y2="1256.6" stroke="#333" stroke-width="1.1"/>
<polygon points="1551.6,1505.7 1559.8,1515.0 1608.4,1487.1 1600.1,1477.8" fill="#fff" stroke="#333" stroke-width="1.7" stroke-linejoin="round"/>
<line x1="1555.7" y1="1510.4" x2="1604.3" y2="1482.4" stroke="#333" stroke-width="1.1"/>
<polygon points="1424.0,1285.4 1426.7,1287.3 1475.2,1259.4 1472.5,1257.5" fill="#fff" stroke="#333" stroke-width="1.7" stroke-linejoin="round"/>
<line x1="1425.3" y1="1286.3" x2="1473.9" y2="1258.4" stroke="#333" stroke-width="1.1"/>
<polygon points="1551.3,1502.4 1551.6,1505.7 1600.1,1477.8 1599.8,1474.5" fill="#fff" stroke="#333" stroke-width="1.7" stroke-linejoin="round"/>
<line x1="1551.4" y1="1504.1" x2="1600.0" y2="1476.2" stroke="#333" stroke-width="1.1"/>
<polygon points="1426.7,1287.3 1432.7,1282.3 1481.3,1254.4 1475.2,1259.4" fill="#fff" stroke="#333" stroke-width="1.7" stroke-linejoin="round"/>
<line x1="1429.7" y1="1284.8" x2="1478.3" y2="1256.9" stroke="#333" stroke-width="1.1"/>
<polygon points="1551.0,1499.1 1551.3,1502.4 1599.8,1474.5 1599.5,1471.2" fill="#fff" stroke="#333" stroke-width="1.7" stroke-linejoin="round"/>
<line x1="1551.1" y1="1500.8" x2="1599.7" y2="1472.9" stroke="#333" stroke-width="1.1"/>
<polygon points="1558.1,1496.1 1551.0,1499.1 1599.5,1471.2 1606.7,1468.2" fill="#fff" stroke="#333" stroke-width="1.7" stroke-linejoin="round"/>
<line x1="1554.5" y1="1497.6" x2="1603.1" y2="1469.7" stroke="#333" stroke-width="1.1"/>
<polygon points="1432.7,1282.3 1437.6,1286.0 1486.1,1258.1 1481.3,1254.4" fill="#fff" stroke="#333" stroke-width="1.7" stroke-linejoin="round"/>
<line x1="1435.1" y1="1284.2" x2="1483.7" y2="1256.2" stroke="#333" stroke-width="1.1"/>
<polygon points="1557.2,1490.0 1558.1,1496.1 1606.7,1468.2 1605.8,1462.1" fill="#fff" stroke="#333" stroke-width="1.7" stroke-linejoin="round"/>
<line x1="1557.7" y1="1493.0" x2="1606.2" y2="1465.1" stroke="#333" stroke-width="1.1"/>
<polygon points="1437.6,1286.0 1440.5,1297.7 1489.1,1269.8 1486.1,1258.1" fill="#fff" stroke="#333" stroke-width="1.7" stroke-linejoin="round"/>
<line x1="1439.0" y1="1291.9" x2="1487.6" y2="1263.9" stroke="#333" stroke-width="1.1"/>
<polygon points="1440.5,1297.7 1443.2,1299.9 1491.7,1272.0 1489.1,1269.8" fill="#fff" stroke="#333" stroke-width="1.7" stroke-linejoin="round"/>
<line x1="1441.8" y1="1298.8" x2="1490.4" y2="1270.9" stroke="#333" stroke-width="1.1"/>
<polygon points="1548.5,1481.8 1557.2,1490.0 1605.8,1462.1 1597.0,1453.9" fill="#fff" stroke="#333" stroke-width="1.7" stroke-linejoin="round"/>
<line x1="1552.9" y1="1485.9" x2="1601.4" y2="1458.0" stroke="#333" stroke-width="1.1"/>
<polygon points="1443.2,1299.9 1445.8,1302.2 1494.4,1274.2 1491.7,1272.0" fill="#fff" stroke="#333" stroke-width="1.7" stroke-linejoin="round"/>
<line x1="1444.5" y1="1301.0" x2="1493.0" y2="1273.1" stroke="#333" stroke-width="1.1"/>
<polygon points="1547.9,1478.4 1548.5,1481.8 1597.0,1453.9 1596.4,1450.4" fill="#fff" stroke="#333" stroke-width="1.7" stroke-linejoin="round"/>
<line x1="1548.2" y1="1480.1" x2="1596.7" y2="1452.2" stroke="#333" stroke-width="1.1"/>
<polygon points="1445.8,1302.2 1452.7,1298.7 1501.3,1270.7 1494.4,1274.2" fill="#fff" stroke="#333" stroke-width="1.7" stroke-linejoin="round"/>
<line x1="1449.3" y1="1300.4" x2="1497.8" y2="1272.5" stroke="#333" stroke-width="1.1"/>
<polygon points="1547.2,1474.9 1547.9,1478.4 1596.4,1450.4 1595.7,1447.0" fill="#fff" stroke="#333" stroke-width="1.7" stroke-linejoin="round"/>
<line x1="1547.5" y1="1476.6" x2="1596.1" y2="1448.7" stroke="#333" stroke-width="1.1"/>
<polygon points="1553.5,1470.4 1547.2,1474.9 1595.7,1447.0 1602.0,1442.5" fill="#fff" stroke="#333" stroke-width="1.7" stroke-linejoin="round"/>
<line x1="1550.3" y1="1472.7" x2="1598.9" y2="1444.8" stroke="#333" stroke-width="1.1"/>
<polygon points="1452.7,1298.7 1457.4,1303.0 1505.9,1275.1 1501.3,1270.7" fill="#fff" stroke="#333" stroke-width="1.7" stroke-linejoin="round"/>
<line x1="1455.1" y1="1300.8" x2="1503.6" y2="1272.9" stroke="#333" stroke-width="1.1"/>
<polygon points="1552.0,1464.2 1553.5,1470.4 1602.0,1442.5 1600.5,1436.2" fill="#fff" stroke="#333" stroke-width="1.7" stroke-linejoin="round"/>
<line x1="1552.7" y1="1467.3" x2="1601.3" y2="1439.4" stroke="#333" stroke-width="1.1"/>
<polygon points="1457.4,1303.0 1459.2,1314.4 1507.7,1286.5 1505.9,1275.1" fill="#fff" stroke="#333" stroke-width="1.7" stroke-linejoin="round"/>
<line x1="1458.3" y1="1308.7" x2="1506.8" y2="1280.8" stroke="#333" stroke-width="1.1"/>
<polygon points="1459.2,1314.4 1461.7,1317.0 1510.2,1289.1 1507.7,1286.5" fill="#fff" stroke="#333" stroke-width="1.7" stroke-linejoin="round"/>
<line x1="1460.4" y1="1315.7" x2="1509.0" y2="1287.8" stroke="#333" stroke-width="1.1"/>
<polygon points="1542.9,1457.2 1552.0,1464.2 1600.5,1436.2 1591.4,1429.2" fill="#fff" stroke="#333" stroke-width="1.7" stroke-linejoin="round"/>
<line x1="1547.4" y1="1460.7" x2="1596.0" y2="1432.7" stroke="#333" stroke-width="1.1"/>
<polygon points="1461.7,1317.0 1464.2,1319.6 1512.8,1291.6 1510.2,1289.1" fill="#fff" stroke="#333" stroke-width="1.7" stroke-linejoin="round"/>
<line x1="1463.0" y1="1318.3" x2="1511.5" y2="1290.3" stroke="#333" stroke-width="1.1"/>
<polygon points="1541.9,1453.7 1542.9,1457.2 1591.4,1429.2 1590.4,1425.8" fill="#fff" stroke="#333" stroke-width="1.7" stroke-linejoin="round"/>
<line x1="1542.4" y1="1455.4" x2="1590.9" y2="1427.5" stroke="#333" stroke-width="1.1"/>
<polygon points="1464.2,1319.6 1471.9,1317.6 1520.4,1289.7 1512.8,1291.6" fill="#fff" stroke="#333" stroke-width="1.7" stroke-linejoin="round"/>
<line x1="1468.0" y1="1318.6" x2="1516.6" y2="1290.7" stroke="#333" stroke-width="1.1"/>
<polygon points="1540.9,1450.2 1541.9,1453.7 1590.4,1425.8 1589.4,1422.3" fill="#fff" stroke="#333" stroke-width="1.7" stroke-linejoin="round"/>
<line x1="1541.4" y1="1451.9" x2="1589.9" y2="1424.0" stroke="#333" stroke-width="1.1"/>
<polygon points="1546.2,1444.3 1540.9,1450.2 1589.4,1422.3 1594.7,1416.3" fill="#fff" stroke="#333" stroke-width="1.7" stroke-linejoin="round"/>
<line x1="1543.5" y1="1447.2" x2="1592.1" y2="1419.3" stroke="#333" stroke-width="1.1"/>
<polygon points="1471.9,1317.6 1476.3,1322.5 1524.9,1294.6 1520.4,1289.7" fill="#fff" stroke="#333" stroke-width="1.7" stroke-linejoin="round"/>
<line x1="1474.1" y1="1320.0" x2="1522.6" y2="1292.1" stroke="#333" stroke-width="1.1"/>
<polygon points="1544.1,1438.0 1546.2,1444.3 1594.7,1416.3 1592.6,1410.0" fill="#fff" stroke="#333" stroke-width="1.7" stroke-linejoin="round"/>
<line x1="1545.1" y1="1441.1" x2="1593.7" y2="1413.2" stroke="#333" stroke-width="1.1"/>
<polygon points="1476.3,1322.5 1476.8,1333.5 1525.4,1305.6 1524.9,1294.6" fill="#fff" stroke="#333" stroke-width="1.7" stroke-linejoin="round"/>
<line x1="1476.6" y1="1328.0" x2="1525.1" y2="1300.1" stroke="#333" stroke-width="1.1"/>
<polygon points="1476.8,1333.5 1479.2,1336.3 1527.8,1308.4 1525.4,1305.6" fill="#fff" stroke="#333" stroke-width="1.7" stroke-linejoin="round"/>
<line x1="1478.0" y1="1334.9" x2="1526.6" y2="1307.0" stroke="#333" stroke-width="1.1"/>
<polygon points="1534.8,1432.3 1544.1,1438.0 1592.6,1410.0 1583.3,1404.4" fill="#fff" stroke="#333" stroke-width="1.7" stroke-linejoin="round"/>
<line x1="1539.4" y1="1435.1" x2="1588.0" y2="1407.2" stroke="#333" stroke-width="1.1"/>
<polygon points="1479.2,1336.3 1481.6,1339.2 1530.1,1311.2 1527.8,1308.4" fill="#fff" stroke="#333" stroke-width="1.7" stroke-linejoin="round"/>
<line x1="1480.4" y1="1337.7" x2="1528.9" y2="1309.8" stroke="#333" stroke-width="1.1"/>
<polygon points="1533.5,1428.8 1534.8,1432.3 1583.3,1404.4 1582.0,1400.9" fill="#fff" stroke="#333" stroke-width="1.7" stroke-linejoin="round"/>
<line x1="1534.1" y1="1430.5" x2="1582.7" y2="1402.6" stroke="#333" stroke-width="1.1"/>
<polygon points="1481.6,1339.2 1489.9,1338.8 1538.4,1310.9 1530.1,1311.2" fill="#fff" stroke="#333" stroke-width="1.7" stroke-linejoin="round"/>
<line x1="1485.7" y1="1339.0" x2="1534.3" y2="1311.1" stroke="#333" stroke-width="1.1"/>
<polygon points="1532.1,1425.3 1533.5,1428.8 1582.0,1400.9 1580.7,1397.4" fill="#fff" stroke="#333" stroke-width="1.7" stroke-linejoin="round"/>
<line x1="1532.8" y1="1427.1" x2="1581.4" y2="1399.2" stroke="#333" stroke-width="1.1"/>
<polygon points="1536.4,1418.1 1532.1,1425.3 1580.7,1397.4 1584.9,1390.2" fill="#fff" stroke="#333" stroke-width="1.7" stroke-linejoin="round"/>
<line x1="1534.3" y1="1421.7" x2="1582.8" y2="1393.8" stroke="#333" stroke-width="1.1"/>
<polygon points="1489.9,1338.8 1494.0,1344.2 1542.5,1316.2 1538.4,1310.9" fill="#fff" stroke="#333" stroke-width="1.7" stroke-linejoin="round"/>
<line x1="1491.9" y1="1341.5" x2="1540.5" y2="1313.5" stroke="#333" stroke-width="1.1"/>
<polygon points="1533.7,1411.9 1536.4,1418.1 1584.9,1390.2 1582.2,1384.0" fill="#fff" stroke="#333" stroke-width="1.7" stroke-linejoin="round"/>
<line x1="1535.0" y1="1415.0" x2="1583.6" y2="1387.1" stroke="#333" stroke-width="1.1"/>
<polygon points="1494.0,1344.2 1493.3,1354.5 1541.8,1326.5 1542.5,1316.2" fill="#fff" stroke="#333" stroke-width="1.7" stroke-linejoin="round"/>
<line x1="1493.6" y1="1349.3" x2="1542.2" y2="1321.4" stroke="#333" stroke-width="1.1"/>
<polygon points="1493.3,1354.5 1495.4,1357.5 1544.0,1329.6 1541.8,1326.5" fill="#fff" stroke="#333" stroke-width="1.7" stroke-linejoin="round"/>
<line x1="1494.3" y1="1356.0" x2="1542.9" y2="1328.1" stroke="#333" stroke-width="1.1"/>
<polygon points="1524.4,1407.6 1533.7,1411.9 1582.2,1384.0 1573.0,1379.7" fill="#fff" stroke="#333" stroke-width="1.7" stroke-linejoin="round"/>
<line x1="1529.1" y1="1409.7" x2="1577.6" y2="1381.8" stroke="#333" stroke-width="1.1"/>
<polygon points="1495.4,1357.5 1497.6,1360.6 1546.1,1332.7 1544.0,1329.6" fill="#fff" stroke="#333" stroke-width="1.7" stroke-linejoin="round"/>
<line x1="1496.5" y1="1359.1" x2="1545.1" y2="1331.2" stroke="#333" stroke-width="1.1"/>
<polygon points="1522.8,1404.2 1524.4,1407.6 1573.0,1379.7 1571.4,1376.3" fill="#fff" stroke="#333" stroke-width="1.7" stroke-linejoin="round"/>
<line x1="1523.6" y1="1405.9" x2="1572.2" y2="1378.0" stroke="#333" stroke-width="1.1"/>
<polygon points="1497.6,1360.6 1506.4,1361.8 1554.9,1333.9 1546.1,1332.7" fill="#fff" stroke="#333" stroke-width="1.7" stroke-linejoin="round"/>
<line x1="1502.0" y1="1361.2" x2="1550.5" y2="1333.3" stroke="#333" stroke-width="1.1"/>
<polygon points="1521.1,1400.8 1522.8,1404.2 1571.4,1376.3 1569.7,1372.9" fill="#fff" stroke="#333" stroke-width="1.7" stroke-linejoin="round"/>
<line x1="1522.0" y1="1402.5" x2="1570.5" y2="1374.6" stroke="#333" stroke-width="1.1"/>
<polygon points="1524.3,1392.4 1521.1,1400.8 1569.7,1372.9 1572.8,1364.5" fill="#fff" stroke="#333" stroke-width="1.7" stroke-linejoin="round"/>
<line x1="1522.7" y1="1396.6" x2="1571.3" y2="1368.7" stroke="#333" stroke-width="1.1"/>
<polygon points="1506.4,1361.8 1510.1,1367.6 1558.6,1339.7 1554.9,1333.9" fill="#fff" stroke="#333" stroke-width="1.7" stroke-linejoin="round"/>
<line x1="1508.2" y1="1364.7" x2="1556.7" y2="1336.8" stroke="#333" stroke-width="1.1"/>
<polygon points="1521.0,1386.3 1524.3,1392.4 1572.8,1364.5 1569.6,1358.4" fill="#fff" stroke="#333" stroke-width="1.7" stroke-linejoin="round"/>
<line x1="1522.7" y1="1389.4" x2="1571.2" y2="1361.4" stroke="#333" stroke-width="1.1"/>
<polygon points="1510.1,1367.6 1508.1,1377.0 1556.7,1349.1 1558.6,1339.7" fill="#fff" stroke="#333" stroke-width="1.7" stroke-linejoin="round"/>
<line x1="1509.1" y1="1372.3" x2="1557.6" y2="1344.4" stroke="#333" stroke-width="1.1"/>
<polygon points="1508.1,1377.0 1510.0,1380.3 1558.6,1352.4 1556.7,1349.1" fill="#fff" stroke="#333" stroke-width="1.7" stroke-linejoin="round"/>
<line x1="1509.1" y1="1378.7" x2="1557.6" y2="1350.8" stroke="#333" stroke-width="1.1"/>
<polygon points="1512.0,1383.6 1521.0,1386.3 1569.6,1358.4 1560.5,1355.7" fill="#fff" stroke="#333" stroke-width="1.7" stroke-linejoin="round"/>
<line x1="1516.5" y1="1385.0" x2="1565.0" y2="1357.1" stroke="#333" stroke-width="1.1"/>
<polygon points="1510.0,1380.3 1512.0,1383.6 1560.5,1355.7 1558.6,1352.4" fill="#fff" stroke="#333" stroke-width="1.7" stroke-linejoin="round"/>
<line x1="1511.0" y1="1382.0" x2="1559.5" y2="1354.0" stroke="#333" stroke-width="1.1"/>
<polygon points="1510.0,1380.3 1512.0,1383.6 1521.0,1386.3 1524.3,1392.4 1521.1,1400.8 1522.8,1404.2 1524.4,1407.6 1533.7,1411.9 1536.4,1418.1 1532.1,1425.3 1533.5,1428.8 1534.8,1432.3 1544.1,1438.0 1546.2,1444.3 1540.9,1450.2 1541.9,1453.7 1542.9,1457.2 1552.0,1464.2 1553.5,1470.4 1547.2,1474.9 1547.9,1478.4 1548.5,1481.8 1557.2,1490.0 1558.1,1496.1 1551.0,1499.1 1551.3,1502.4 1551.6,1505.7 1559.8,1515.0 1560.1,1520.8 1552.2,1522.3 1552.1,1525.4 1552.1,1528.6 1559.7,1538.7 1559.2,1544.2 1550.8,1544.1 1550.4,1547.0 1549.9,1549.9 1556.8,1560.7 1555.7,1565.7 1546.8,1564.1 1546.0,1566.7 1545.2,1569.3 1551.2,1580.7 1549.5,1585.1 1540.3,1581.9 1539.2,1584.2 1538.1,1586.5 1543.0,1598.2 1540.7,1602.0 1531.4,1597.3 1530.0,1599.2 1528.5,1601.1 1532.4,1612.9 1529.5,1616.0 1520.3,1609.9 1518.6,1611.4 1516.8,1612.9 1519.5,1624.6 1516.1,1626.9 1507.1,1619.6 1505.1,1620.7 1503.1,1621.7 1504.6,1633.1 1500.7,1634.6 1492.1,1626.1 1489.9,1626.7 1487.6,1627.3 1487.9,1638.2 1483.7,1638.9 1475.6,1629.3 1473.2,1629.5 1470.8,1629.7 1469.8,1639.8 1465.3,1639.7 1457.9,1629.3 1455.3,1629.0 1452.7,1628.7 1450.5,1637.9 1445.8,1637.0 1439.2,1625.9 1436.5,1625.2 1433.8,1624.4 1430.5,1632.6 1425.6,1630.8 1419.9,1619.3 1417.2,1618.1 1414.4,1616.9 1409.9,1623.9 1405.0,1621.3 1400.4,1609.5 1397.6,1607.9 1394.9,1606.3 1389.4,1611.9 1384.5,1608.6 1380.9,1596.8 1378.2,1594.8 1375.6,1592.7 1369.1,1597.0 1364.3,1593.0 1361.9,1581.4 1359.3,1579.0 1356.8,1576.6 1349.5,1579.3 1344.9,1574.7 1343.7,1563.4 1341.3,1560.8 1338.8,1558.0 1330.8,1559.2 1326.6,1554.1 1326.7,1543.4 1324.4,1540.4 1322.1,1537.4 1313.6,1537.0 1309.7,1531.5 1311.0,1521.6 1308.9,1518.4 1306.9,1515.2 1297.9,1513.2 1294.5,1507.3 1297.0,1498.3 1295.2,1495.0 1293.4,1491.6 1284.2,1488.1 1281.3,1482.0 1285.0,1474.1 1283.5,1470.7 1282.0,1467.2 1272.7,1462.3 1270.3,1456.0 1275.1,1449.4 1273.9,1445.9 1272.7,1442.4 1263.6,1436.1 1261.7,1429.8 1267.6,1424.5 1266.7,1421.1 1265.9,1417.6 1256.9,1410.0 1255.7,1403.8 1262.5,1400.0 1262.0,1396.6 1261.5,1393.3 1253.0,1384.5 1252.4,1378.5 1260.0,1376.3 1259.8,1373.0 1259.7,1369.8 1251.8,1360.1 1251.9,1354.4 1260.1,1353.7 1260.3,1350.7 1260.6,1347.7 1253.3,1337.2 1254.1,1331.9 1262.8,1332.8 1263.3,1330.0 1264.0,1327.3 1257.5,1316.1 1259.0,1311.4 1268.0,1313.9 1268.9,1311.4 1269.9,1308.9 1264.4,1297.4 1266.5,1293.3 1275.7,1297.2 1277.0,1295.1 1278.3,1293.0 1273.9,1281.2 1276.5,1277.8 1285.8,1283.2 1287.3,1281.4 1289.0,1279.8 1285.7,1268.0 1288.8,1265.3 1297.9,1272.0 1299.8,1270.7 1301.7,1269.4 1299.6,1257.9 1303.2,1255.9 1312.0,1263.9 1314.2,1263.0 1316.3,1262.2 1315.4,1251.1 1319.5,1249.9 1327.8,1259.0 1330.2,1258.6 1332.5,1258.2 1332.9,1247.7 1337.2,1247.4 1345.0,1257.4 1347.5,1257.4 1350.0,1257.6 1351.6,1247.8 1356.3,1248.4 1363.3,1259.1 1365.9,1259.6 1368.5,1260.2 1371.3,1251.4 1376.2,1252.8 1382.3,1264.1 1385.0,1265.1 1387.7,1266.1 1391.6,1258.5 1396.6,1260.7 1401.7,1272.3 1404.5,1273.7 1407.2,1275.2 1412.2,1268.8 1417.2,1271.8 1421.3,1283.6 1424.0,1285.4 1426.7,1287.3 1432.7,1282.3 1437.6,1286.0 1440.5,1297.7 1443.2,1299.9 1445.8,1302.2 1452.7,1298.7 1457.4,1303.0 1459.2,1314.4 1461.7,1317.0 1464.2,1319.6 1471.9,1317.6 1476.3,1322.5 1476.8,1333.5 1479.2,1336.3 1481.6,1339.2 1489.9,1338.8 1494.0,1344.2 1493.3,1354.5 1495.4,1357.5 1497.6,1360.6 1506.4,1361.8 1510.1,1367.6 1508.1,1377.0" fill="#fff" stroke="#333" stroke-width="2.0" stroke-linejoin="round"/>
<ellipse cx="1406.8" cy="1443.1" rx="112.8" ry="188.0" transform="rotate(-29.9 1406.8 1443.1)" fill="none" stroke="#333" stroke-width="2.0"/>
<ellipse cx="1409.4" cy="1441.6" rx="106.8" ry="178.0" transform="rotate(-29.9 1409.4 1441.6)" fill="none" stroke="#333" stroke-width="1.6"/>
<ellipse cx="1412.0" cy="1440.1" rx="103.2" ry="172.0" transform="rotate(-29.9 1412.0 1440.1)" fill="none" stroke="#333" stroke-width="1.6"/>
<ellipse cx="1418.1" cy="1436.6" rx="96.0" ry="160.0" transform="rotate(-29.9 1418.1 1436.6)" fill="none" stroke="#333" stroke-width="1.8"/>
<ellipse cx="1418.1" cy="1436.6" rx="31.2" ry="52.0" transform="rotate(-29.9 1418.1 1436.6)" fill="#fff" stroke="#333" stroke-width="1.8"/>
<polyline points="1404.3,1384.5 1406.5,1383.4 1408.8,1382.7 1411.3,1382.1 1413.9,1381.9 1416.6,1382.0 1419.4,1382.4 1422.2,1383.0 1425.1,1384.0 1428.1,1385.2 1431.0,1386.7 1433.9,1388.5 1436.9,1390.5 1439.7,1392.8 1442.5,1395.3 1445.3,1398.0 1447.9,1400.9 1450.5,1404.0 1452.9,1407.2 1455.1,1410.6 1457.3,1414.1 1459.2,1417.6 1461.0,1421.3 1462.6,1425.0 1463.9,1428.7 1465.1,1432.5 1466.1,1436.2 1466.8,1439.9 1467.3,1443.5 1467.6,1447.1 1467.7,1450.5 1467.5,1453.8 1467.1,1456.9 1466.4,1459.9 1465.6,1462.7 1464.5,1465.3 1463.2,1467.7 1461.7,1469.8 1460.0,1471.7 1458.2,1473.3 1456.1,1474.7" fill="none" stroke="#333" stroke-width="1.4" stroke-linejoin="round"/>
<ellipse cx="1416.2" cy="1345.7" rx="25.2" ry="42.0" transform="rotate(-29.9 1416.2 1345.7)" fill="#fff" stroke="#333" stroke-width="1.8"/>
<ellipse cx="1417.9" cy="1344.7" rx="21.6" ry="36.0" transform="rotate(-29.9 1417.9 1344.7)" fill="none" stroke="#333" stroke-width="1.4"/>
<polygon points="1390.0,1346.3 1395.1,1329.0 1408.9,1321.0 1426.4,1325.4 1438.9,1347.0 1433.9,1364.3 1420.0,1372.3 1402.5,1368.0" fill="#fff" stroke="#333" stroke-width="2.2" stroke-linejoin="round"/>
<line x1="1425.0" y1="1355.0" x2="1438.9" y2="1347.0" stroke="#333" stroke-width="1.8"/>
<line x1="1420.0" y1="1372.3" x2="1433.9" y2="1364.3" stroke="#333" stroke-width="1.8"/>
<line x1="1395.1" y1="1329.0" x2="1408.9" y2="1321.0" stroke="#333" stroke-width="1.8"/>
<line x1="1412.6" y1="1333.3" x2="1426.4" y2="1325.4" stroke="#333" stroke-width="1.8"/>
<polygon points="1425.0,1355.0 1420.0,1372.3 1402.5,1368.0 1390.0,1346.3 1395.1,1329.0 1412.6,1333.3" fill="#fff" stroke="#333" stroke-width="2.4" stroke-linejoin="round"/>
<ellipse cx="1407.5" cy="1350.7" rx="10.2" ry="17.0" transform="rotate(-29.9 1407.5 1350.7)" fill="none" stroke="#333" stroke-width="2.4"/>
<ellipse cx="1409.3" cy="1349.7" rx="7.2" ry="12.0" transform="rotate(-29.9 1409.3 1349.7)" fill="none" stroke="#333" stroke-width="1.8"/>
<ellipse cx="1411.0" cy="1348.7" rx="4.8" ry="8.0" transform="rotate(-29.9 1411.0 1348.7)" fill="none" stroke="#333" stroke-width="1.6"/>
<line x1="1414.3" y1="1346.8" x2="1418.5" y2="1344.4" stroke="#333" stroke-width="1.6"/>
<line x1="1416.5" y1="1358.5" x2="1422.1" y2="1363.3" stroke="#333" stroke-width="1.6"/>
<line x1="1409.8" y1="1362.4" x2="1411.1" y2="1369.6" stroke="#333" stroke-width="1.6"/>
<line x1="1400.8" y1="1354.5" x2="1396.6" y2="1356.9" stroke="#333" stroke-width="1.6"/>
<line x1="1398.5" y1="1342.8" x2="1393.0" y2="1338.0" stroke="#333" stroke-width="1.6"/>
<line x1="1405.3" y1="1338.9" x2="1403.9" y2="1331.7" stroke="#333" stroke-width="1.6"/>
<ellipse cx="1349.6" cy="1442.9" rx="25.2" ry="42.0" transform="rotate(-29.9 1349.6 1442.9)" fill="#fff" stroke="#333" stroke-width="1.8"/>
<ellipse cx="1351.4" cy="1441.9" rx="21.6" ry="36.0" transform="rotate(-29.9 1351.4 1441.9)" fill="none" stroke="#333" stroke-width="1.4"/>
<polygon points="1323.5,1443.5 1328.5,1426.2 1342.4,1418.2 1359.8,1422.6 1372.3,1444.2 1367.3,1461.5 1353.4,1469.5 1335.9,1465.2" fill="#fff" stroke="#333" stroke-width="2.2" stroke-linejoin="round"/>
<line x1="1358.4" y1="1452.2" x2="1372.3" y2="1444.2" stroke="#333" stroke-width="1.8"/>
<line x1="1353.4" y1="1469.5" x2="1367.3" y2="1461.5" stroke="#333" stroke-width="1.8"/>
<line x1="1328.5" y1="1426.2" x2="1342.4" y2="1418.2" stroke="#333" stroke-width="1.8"/>
<line x1="1346.0" y1="1430.5" x2="1359.9" y2="1422.6" stroke="#333" stroke-width="1.8"/>
<polygon points="1358.4,1452.2 1353.4,1469.5 1335.9,1465.2 1323.5,1443.5 1328.5,1426.2 1346.0,1430.5" fill="#fff" stroke="#333" stroke-width="2.4" stroke-linejoin="round"/>
<ellipse cx="1341.0" cy="1447.9" rx="10.2" ry="17.0" transform="rotate(-29.9 1341.0 1447.9)" fill="none" stroke="#333" stroke-width="2.4"/>
<ellipse cx="1342.7" cy="1446.9" rx="7.2" ry="12.0" transform="rotate(-29.9 1342.7 1446.9)" fill="none" stroke="#333" stroke-width="1.8"/>
<ellipse cx="1344.4" cy="1445.9" rx="4.8" ry="8.0" transform="rotate(-29.9 1344.4 1445.9)" fill="none" stroke="#333" stroke-width="1.6"/>
<line x1="1347.7" y1="1444.0" x2="1351.9" y2="1441.6" stroke="#333" stroke-width="1.6"/>
<line x1="1349.9" y1="1455.7" x2="1355.5" y2="1460.5" stroke="#333" stroke-width="1.6"/>
<line x1="1343.2" y1="1459.6" x2="1344.6" y2="1466.8" stroke="#333" stroke-width="1.6"/>
<line x1="1334.2" y1="1451.7" x2="1330.0" y2="1454.1" stroke="#333" stroke-width="1.6"/>
<line x1="1332.0" y1="1440.0" x2="1326.4" y2="1435.2" stroke="#333" stroke-width="1.6"/>
<line x1="1338.7" y1="1436.1" x2="1337.3" y2="1428.9" stroke="#333" stroke-width="1.6"/>
<ellipse cx="1485.0" cy="1518.1" rx="25.2" ry="42.0" transform="rotate(-29.9 1485.0 1518.1)" fill="#fff" stroke="#333" stroke-width="1.8"/>
<ellipse cx="1486.8" cy="1517.1" rx="21.6" ry="36.0" transform="rotate(-29.9 1486.8 1517.1)" fill="none" stroke="#333" stroke-width="1.4"/>
<polygon points="1458.9,1518.7 1463.9,1501.4 1477.8,1493.4 1495.3,1497.8 1507.7,1519.5 1502.7,1536.8 1488.8,1544.7 1471.3,1540.4" fill="#fff" stroke="#333" stroke-width="2.2" stroke-linejoin="round"/>
<line x1="1493.9" y1="1527.4" x2="1507.7" y2="1519.4" stroke="#333" stroke-width="1.8"/>
<line x1="1488.8" y1="1544.7" x2="1502.7" y2="1536.8" stroke="#333" stroke-width="1.8"/>
<line x1="1463.9" y1="1501.4" x2="1477.8" y2="1493.4" stroke="#333" stroke-width="1.8"/>
<line x1="1481.4" y1="1505.7" x2="1495.3" y2="1497.8" stroke="#333" stroke-width="1.8"/>
<polygon points="1493.9,1527.4 1488.8,1544.7 1471.3,1540.4 1458.9,1518.7 1463.9,1501.4 1481.4,1505.7" fill="#fff" stroke="#333" stroke-width="2.4" stroke-linejoin="round"/>
<ellipse cx="1476.4" cy="1523.1" rx="10.2" ry="17.0" transform="rotate(-29.9 1476.4 1523.1)" fill="none" stroke="#333" stroke-width="2.4"/>
<ellipse cx="1478.1" cy="1522.1" rx="7.2" ry="12.0" transform="rotate(-29.9 1478.1 1522.1)" fill="none" stroke="#333" stroke-width="1.8"/>
<ellipse cx="1479.8" cy="1521.1" rx="4.8" ry="8.0" transform="rotate(-29.9 1479.8 1521.1)" fill="none" stroke="#333" stroke-width="1.6"/>
<line x1="1483.1" y1="1519.2" x2="1487.3" y2="1516.8" stroke="#333" stroke-width="1.6"/>
<line x1="1485.4" y1="1530.9" x2="1490.9" y2="1535.7" stroke="#333" stroke-width="1.6"/>
<line x1="1478.6" y1="1534.8" x2="1480.0" y2="1542.0" stroke="#333" stroke-width="1.6"/>
<line x1="1469.6" y1="1526.9" x2="1465.4" y2="1529.3" stroke="#333" stroke-width="1.6"/>
<line x1="1467.4" y1="1515.2" x2="1461.8" y2="1510.4" stroke="#333" stroke-width="1.6"/>
<line x1="1474.1" y1="1511.4" x2="1472.8" y2="1504.2" stroke="#333" stroke-width="1.6"/>
<text x="1492" y="1436" transform="rotate(68 1492 1436)" font-family="Liberation Sans, sans-serif" font-size="30" text-anchor="middle" textLength="74" lengthAdjust="spacingAndGlyphs" fill="#000">47T</text>
<line x1="1390.1" y1="1448.1" x2="1426.5" y2="1427.1" stroke="#333" stroke-width="1.4" stroke-dasharray="30 12"/>
<line x1="1408.2" y1="1467.6" x2="1444.6" y2="1446.7" stroke="#333" stroke-width="1.4" stroke-dasharray="30 12"/>
<path d="M1431.7,1556.5 l16,-2 M1439.7,1555.5 l2,18 M1433.7,1574.5 l14,-2" stroke="#333" stroke-width="1.8" fill="none"/>
<polygon points="1132.2,1535.2 1134.6,1534.0 1137.2,1533.2 1139.9,1532.6 1142.7,1532.4 1145.7,1532.5 1148.7,1532.9 1151.9,1533.6 1155.0,1534.6 1158.3,1536.0 1161.5,1537.6 1164.7,1539.6 1167.9,1541.8 1171.0,1544.3 1174.1,1547.0 1177.1,1550.0 1180.0,1553.2 1182.8,1556.5 1185.4,1560.1 1187.9,1563.8 1190.3,1567.6 1192.4,1571.5 1194.3,1575.5 1196.1,1579.6 1197.6,1583.7 1198.9,1587.8 1199.9,1591.9 1200.7,1595.9 1201.3,1599.9 1201.6,1603.8 1201.7,1607.5 1201.5,1611.1 1201.0,1614.6 1200.3,1617.9 1199.4,1620.9 1198.2,1623.8 1196.8,1626.4 1195.2,1628.7 1193.3,1630.8 1191.3,1632.6 1189.0,1634.1 1176.9,1641.0 1174.5,1642.2 1171.9,1643.1 1169.2,1643.6 1166.3,1643.9 1163.4,1643.8 1160.3,1643.4 1157.2,1642.7 1154.0,1641.6 1150.8,1640.3 1147.6,1638.6 1144.4,1636.7 1141.2,1634.5 1138.0,1632.0 1135.0,1629.2 1132.0,1626.3 1129.1,1623.1 1126.3,1619.7 1123.6,1616.2 1121.1,1612.5 1118.8,1608.7 1116.7,1604.7 1114.7,1600.7 1113.0,1596.7 1111.5,1592.6 1110.2,1588.5 1109.2,1584.4 1108.3,1580.3 1107.8,1576.4 1107.5,1572.5 1107.4,1568.7 1107.6,1565.1 1108.1,1561.7 1108.8,1558.4 1109.7,1555.3 1110.9,1552.5 1112.3,1549.9 1113.9,1547.5 1115.8,1545.5 1117.8,1543.7 1120.1,1542.2" fill="#fff" stroke="#333" stroke-width="2.0" stroke-linejoin="round"/>
<ellipse cx="1148.5" cy="1591.6" rx="34.2" ry="57.0" transform="rotate(-29.9 1148.5 1591.6)" fill="#fff" stroke="#333" stroke-width="2.0"/>
<polyline points="1131.7,1536.5 1134.1,1536.1 1136.7,1535.9 1139.3,1535.9 1142.0,1536.2 1144.8,1536.8 1147.6,1537.6 1150.4,1538.7 1153.3,1540.0 1156.1,1541.5 1159.0,1543.3 1161.8,1545.3 1164.6,1547.5 1167.4,1549.9 1170.1,1552.5 1172.7,1555.2 1175.2,1558.1 1177.6,1561.2 1179.9,1564.4 1182.1,1567.7 1184.2,1571.1 1186.1,1574.6 1187.9,1578.1 1189.4,1581.7 1190.9,1585.4 1192.1,1589.0 1193.2,1592.7 1194.1,1596.3 1194.7,1599.9 1195.2,1603.4 1195.5,1606.8 1195.6,1610.2 1195.5,1613.4 1195.2,1616.6 1194.7,1619.6 1194.0,1622.4 1193.1,1625.1 1192.0,1627.6 1190.7,1629.9 1189.3,1631.9 1187.7,1633.8" fill="none" stroke="#333" stroke-width="2.4" stroke-linejoin="round"/>
<polyline points="1129.4,1541.2 1131.7,1540.8 1134.1,1540.6 1136.6,1540.7 1139.2,1541.0 1141.8,1541.5 1144.5,1542.3 1147.2,1543.3 1149.9,1544.5 1152.6,1546.0 1155.3,1547.7 1158.0,1549.5 1160.6,1551.6 1163.2,1553.9 1165.8,1556.3 1168.3,1558.9 1170.7,1561.7 1172.9,1564.6 1175.1,1567.6 1177.2,1570.7 1179.2,1574.0 1181.0,1577.3 1182.6,1580.6 1184.1,1584.1 1185.5,1587.5 1186.7,1591.0 1187.7,1594.4 1188.5,1597.8 1189.2,1601.2 1189.6,1604.6 1189.9,1607.8 1190.0,1611.0 1189.9,1614.1 1189.6,1617.1 1189.1,1619.9 1188.4,1622.6 1187.6,1625.1 1186.6,1627.5 1185.4,1629.7 1184.0,1631.6 1182.5,1633.4" fill="none" stroke="#333" stroke-width="1.4" stroke-linejoin="round"/>
<polygon points="1123.5,1548.3 1125.7,1547.2 1127.9,1546.5 1130.3,1546.0 1132.8,1545.8 1135.4,1545.8 1138.1,1546.2 1140.8,1546.8 1143.6,1547.8 1146.4,1548.9 1149.2,1550.4 1152.1,1552.1 1154.9,1554.0 1157.6,1556.2 1160.3,1558.6 1163.0,1561.2 1165.5,1564.0 1167.9,1567.0 1170.3,1570.1 1172.4,1573.3 1174.5,1576.7 1176.4,1580.1 1178.1,1583.6 1179.6,1587.2 1180.9,1590.8 1182.0,1594.4 1183.0,1598.0 1183.7,1601.5 1184.2,1605.0 1184.4,1608.4 1184.5,1611.7 1184.3,1614.9 1183.9,1617.9 1183.3,1620.8 1182.5,1623.4 1181.4,1625.9 1180.2,1628.2 1178.8,1630.3 1177.2,1632.1 1175.4,1633.7 1173.4,1635.0 1156.1,1644.9 1153.9,1646.0 1151.7,1646.7 1149.3,1647.2 1146.8,1647.4 1144.2,1647.4 1141.5,1647.0 1138.8,1646.4 1136.0,1645.4 1133.2,1644.3 1130.4,1642.8 1127.5,1641.1 1124.7,1639.2 1122.0,1637.0 1119.3,1634.6 1116.6,1632.0 1114.1,1629.2 1111.7,1626.2 1109.3,1623.1 1107.2,1619.9 1105.1,1616.5 1103.2,1613.1 1101.5,1609.6 1100.0,1606.0 1098.7,1602.4 1097.6,1598.8 1096.6,1595.2 1095.9,1591.7 1095.4,1588.2 1095.2,1584.8 1095.1,1581.5 1095.3,1578.3 1095.7,1575.3 1096.3,1572.4 1097.1,1569.8 1098.2,1567.3 1099.4,1565.0 1100.8,1562.9 1102.4,1561.1 1104.2,1559.5 1106.2,1558.2" fill="#fff" stroke="#333" stroke-width="2.0" stroke-linejoin="round"/>
<ellipse cx="1131.1" cy="1601.6" rx="30.0" ry="50.0" transform="rotate(-29.9 1131.1 1601.6)" fill="#fff" stroke="#333" stroke-width="2.0"/>
<ellipse cx="1131.1" cy="1601.6" rx="22.8" ry="38.0" transform="rotate(-29.9 1131.1 1601.6)" fill="none" stroke="#333" stroke-width="1.6"/>
<ellipse cx="1136.3" cy="1598.6" rx="25.8" ry="43.0" transform="rotate(-29.9 1136.3 1598.6)" fill="none" stroke="#333" stroke-width="1.2"/>
<ellipse cx="1131.1" cy="1601.6" rx="12.0" ry="20.0" transform="rotate(-29.9 1131.1 1601.6)" fill="#fff" stroke="#333" stroke-width="1.8"/>
<polygon points="974.2,1592.1 974.8,1591.7 975.5,1591.5 976.1,1591.4 976.9,1591.3 977.6,1591.3 978.4,1591.5 979.2,1591.6 980.0,1591.9 980.8,1592.2 981.6,1592.7 982.5,1593.2 983.3,1593.7 984.1,1594.4 984.9,1595.0 985.6,1595.8 986.4,1596.6 987.1,1597.5 987.7,1598.4 988.4,1599.3 989.0,1600.3 989.5,1601.3 990.0,1602.3 990.4,1603.3 990.8,1604.4 991.2,1605.4 991.4,1606.5 991.6,1607.5 991.8,1608.5 991.8,1609.5 991.9,1610.4 991.8,1611.4 991.7,1612.2 991.5,1613.1 991.3,1613.9 991.0,1614.6 990.6,1615.2 990.2,1615.8 989.7,1616.4 989.2,1616.8 988.6,1617.2 943.6,1643.1 943.0,1643.4 942.3,1643.6 941.6,1643.8 940.9,1643.8 940.1,1643.8 939.4,1643.7 938.6,1643.5 937.8,1643.3 936.9,1642.9 936.1,1642.5 935.3,1642.0 934.5,1641.4 933.7,1640.8 932.9,1640.1 932.1,1639.4 931.4,1638.6 930.7,1637.7 930.0,1636.8 929.4,1635.9 928.8,1634.9 928.3,1633.9 927.8,1632.9 927.3,1631.8 926.9,1630.8 926.6,1629.7 926.3,1628.7 926.1,1627.7 926.0,1626.7 925.9,1625.7 925.9,1624.7 925.9,1623.8 926.1,1622.9 926.2,1622.1 926.5,1621.3 926.8,1620.6 927.1,1619.9 927.5,1619.3 928.0,1618.8 928.5,1618.4 929.1,1618.0" fill="#fff" stroke="#333" stroke-width="1.9" stroke-linejoin="round"/>
<polygon points="926.8,1606.0 927.9,1605.5 929.1,1605.1 930.4,1604.8 931.7,1604.7 933.0,1604.7 934.4,1604.9 935.8,1605.3 937.3,1605.7 938.7,1606.4 940.2,1607.1 941.7,1608.0 943.1,1609.0 944.6,1610.1 946.0,1611.4 947.3,1612.7 948.7,1614.2 949.9,1615.7 951.1,1617.3 952.3,1619.0 953.3,1620.8 954.3,1622.6 955.2,1624.4 956.0,1626.2 956.7,1628.1 957.3,1630.0 957.7,1631.9 958.1,1633.7 958.4,1635.5 958.5,1637.3 958.5,1639.0 958.4,1640.6 958.2,1642.2 957.9,1643.7 957.5,1645.1 957.0,1646.4 956.3,1647.6 955.6,1648.6 954.7,1649.6 953.8,1650.4 952.8,1651.1 933.7,1662.1 932.6,1662.6 931.4,1663.0 930.2,1663.2 928.9,1663.4 927.5,1663.3 926.1,1663.1 924.7,1662.8 923.3,1662.3 921.8,1661.7 920.3,1661.0 918.9,1660.1 917.4,1659.1 916.0,1657.9 914.6,1656.7 913.2,1655.3 911.9,1653.9 910.6,1652.3 909.4,1650.7 908.3,1649.0 907.2,1647.3 906.2,1645.5 905.3,1643.7 904.6,1641.8 903.9,1639.9 903.3,1638.1 902.8,1636.2 902.4,1634.4 902.2,1632.6 902.0,1630.8 902.0,1629.1 902.1,1627.4 902.3,1625.9 902.6,1624.4 903.0,1623.0 903.6,1621.7 904.2,1620.5 905.0,1619.4 905.8,1618.5 906.8,1617.7 907.8,1617.0" fill="#fff" stroke="#333" stroke-width="2.0" stroke-linejoin="round"/>
<ellipse cx="920.7" cy="1639.5" rx="15.6" ry="26.0" transform="rotate(-29.9 920.7 1639.5)" fill="#fff" stroke="#333" stroke-width="2.0"/>
<polyline points="913.5,1614.9 914.5,1614.3 915.7,1613.9 916.9,1613.7 918.1,1613.6 919.4,1613.6 920.7,1613.8 922.1,1614.1 923.5,1614.6 924.9,1615.2 926.3,1615.9 927.7,1616.8 929.1,1617.7 930.5,1618.8 931.9,1620.0 933.2,1621.3 934.5,1622.7 935.7,1624.2 936.8,1625.7 937.9,1627.4 938.9,1629.0 939.9,1630.8 940.7,1632.5 941.5,1634.3 942.2,1636.1 942.7,1637.9 943.2,1639.7 943.5,1641.5 943.8,1643.2 943.9,1644.9 943.9,1646.6 943.9,1648.1 943.7,1649.7 943.4,1651.1 942.9,1652.4 942.4,1653.7 941.8,1654.8 941.1,1655.9 940.3,1656.8 939.4,1657.5 938.4,1658.2" fill="none" stroke="#333" stroke-width="1.3" stroke-linejoin="round"/>
<ellipse cx="920.7" cy="1639.5" rx="12.0" ry="20.0" transform="rotate(-29.9 920.7 1639.5)" fill="none" stroke="#333" stroke-width="1.6"/>
<polygon points="926.6,1636.1 928.9,1647.8 922.1,1651.7 913.1,1643.9 910.9,1632.2 917.6,1628.3" fill="#fff" stroke="#333" stroke-width="2.2" stroke-linejoin="round"/>
<line x1="913.8" y1="1627.4" x2="925.9" y2="1636.5" stroke="#333" stroke-width="1.4"/>
<line x1="927.7" y1="1651.7" x2="925.9" y2="1636.5" stroke="#333" stroke-width="1.4"/>
<line x1="913.5" y1="1643.7" x2="925.9" y2="1636.5" stroke="#333" stroke-width="1.4"/>
<polygon points="905.5,1683.8 906.1,1683.5 906.8,1683.3 907.4,1683.1 908.2,1683.1 908.9,1683.1 909.7,1683.2 910.5,1683.4 911.3,1683.7 912.1,1684.0 912.9,1684.4 913.8,1684.9 914.6,1685.5 915.4,1686.1 916.2,1686.8 916.9,1687.6 917.7,1688.4 918.4,1689.2 919.0,1690.1 919.7,1691.1 920.3,1692.0 920.8,1693.0 921.3,1694.1 921.7,1695.1 922.1,1696.1 922.4,1697.2 922.7,1698.2 922.9,1699.3 923.1,1700.3 923.1,1701.2 923.2,1702.2 923.1,1703.1 923.0,1704.0 922.8,1704.8 922.6,1705.6 922.3,1706.3 921.9,1707.0 921.5,1707.6 921.0,1708.1 920.5,1708.6 919.9,1709.0 874.9,1734.9 874.2,1735.2 873.6,1735.4 872.9,1735.5 872.2,1735.6 871.4,1735.6 870.7,1735.5 869.9,1735.3 869.1,1735.0 868.2,1734.7 867.4,1734.3 866.6,1733.8 865.8,1733.2 865.0,1732.6 864.2,1731.9 863.4,1731.1 862.7,1730.3 862.0,1729.5 861.3,1728.6 860.7,1727.6 860.1,1726.6 859.5,1725.6 859.1,1724.6 858.6,1723.6 858.2,1722.5 857.9,1721.5 857.6,1720.5 857.4,1719.4 857.3,1718.4 857.2,1717.4 857.2,1716.5 857.2,1715.6 857.4,1714.7 857.5,1713.9 857.8,1713.1 858.1,1712.3 858.4,1711.7 858.8,1711.1 859.3,1710.6 859.8,1710.1 860.4,1709.7" fill="#fff" stroke="#333" stroke-width="1.9" stroke-linejoin="round"/>
<polygon points="858.1,1697.8 859.2,1697.2 860.4,1696.8 861.7,1696.6 863.0,1696.5 864.3,1696.5 865.7,1696.7 867.1,1697.0 868.6,1697.5 870.0,1698.1 871.5,1698.9 873.0,1699.8 874.4,1700.8 875.9,1701.9 877.3,1703.1 878.6,1704.5 880.0,1705.9 881.2,1707.5 882.4,1709.1 883.6,1710.8 884.6,1712.5 885.6,1714.3 886.5,1716.2 887.3,1718.0 888.0,1719.9 888.6,1721.8 889.0,1723.6 889.4,1725.5 889.7,1727.3 889.8,1729.0 889.8,1730.7 889.7,1732.4 889.5,1734.0 889.2,1735.5 888.8,1736.9 888.3,1738.2 887.6,1739.3 886.9,1740.4 886.0,1741.4 885.1,1742.2 884.1,1742.8 865.0,1753.8 863.9,1754.4 862.7,1754.8 861.5,1755.0 860.2,1755.1 858.8,1755.1 857.4,1754.9 856.0,1754.6 854.6,1754.1 853.1,1753.5 851.6,1752.7 850.2,1751.8 848.7,1750.8 847.3,1749.7 845.9,1748.4 844.5,1747.1 843.2,1745.6 841.9,1744.1 840.7,1742.5 839.6,1740.8 838.5,1739.1 837.5,1737.3 836.6,1735.4 835.9,1733.6 835.2,1731.7 834.6,1729.8 834.1,1728.0 833.7,1726.1 833.5,1724.3 833.3,1722.6 833.3,1720.8 833.4,1719.2 833.6,1717.6 833.9,1716.1 834.3,1714.7 834.9,1713.4 835.5,1712.2 836.3,1711.2 837.1,1710.2 838.0,1709.4 839.1,1708.7" fill="#fff" stroke="#333" stroke-width="2.0" stroke-linejoin="round"/>
<ellipse cx="852.0" cy="1731.3" rx="15.6" ry="26.0" transform="rotate(-29.9 852.0 1731.3)" fill="#fff" stroke="#333" stroke-width="2.0"/>
<polyline points="844.8,1706.6 845.8,1706.1 847.0,1705.7 848.2,1705.5 849.4,1705.4 850.7,1705.4 852.0,1705.6 853.4,1705.9 854.8,1706.4 856.2,1706.9 857.6,1707.7 859.0,1708.5 860.4,1709.5 861.8,1710.6 863.2,1711.8 864.5,1713.1 865.7,1714.5 867.0,1716.0 868.1,1717.5 869.2,1719.1 870.2,1720.8 871.2,1722.5 872.0,1724.3 872.8,1726.1 873.5,1727.9 874.0,1729.7 874.5,1731.5 874.8,1733.2 875.1,1735.0 875.2,1736.7 875.2,1738.3 875.2,1739.9 875.0,1741.4 874.7,1742.9 874.2,1744.2 873.7,1745.4 873.1,1746.6 872.4,1747.6 871.6,1748.5 870.7,1749.3 869.7,1750.0" fill="none" stroke="#333" stroke-width="1.3" stroke-linejoin="round"/>
<ellipse cx="852.0" cy="1731.3" rx="12.0" ry="20.0" transform="rotate(-29.9 852.0 1731.3)" fill="none" stroke="#333" stroke-width="1.6"/>
<polygon points="857.9,1727.9 860.2,1739.6 853.4,1743.5 844.4,1735.7 842.2,1724.0 848.9,1720.1" fill="#fff" stroke="#333" stroke-width="2.2" stroke-linejoin="round"/>
<line x1="845.1" y1="1719.1" x2="857.2" y2="1728.3" stroke="#333" stroke-width="1.4"/>
<line x1="859.0" y1="1743.4" x2="857.2" y2="1728.3" stroke="#333" stroke-width="1.4"/>
<line x1="844.7" y1="1735.5" x2="857.2" y2="1728.3" stroke="#333" stroke-width="1.4"/>
<polygon points="1035.3,1762.3 1035.9,1762.0 1036.6,1761.8 1037.3,1761.7 1038.0,1761.6 1038.8,1761.6 1039.5,1761.7 1040.3,1761.9 1041.1,1762.2 1041.9,1762.5 1042.8,1763.0 1043.6,1763.5 1044.4,1764.0 1045.2,1764.7 1046.0,1765.3 1046.7,1766.1 1047.5,1766.9 1048.2,1767.8 1048.9,1768.7 1049.5,1769.6 1050.1,1770.6 1050.6,1771.6 1051.1,1772.6 1051.6,1773.6 1052.0,1774.7 1052.3,1775.7 1052.5,1776.8 1052.8,1777.8 1052.9,1778.8 1053.0,1779.8 1053.0,1780.7 1052.9,1781.7 1052.8,1782.5 1052.6,1783.4 1052.4,1784.1 1052.1,1784.9 1051.7,1785.5 1051.3,1786.1 1050.9,1786.7 1050.3,1787.1 1049.8,1787.5 1004.7,1813.4 1004.1,1813.7 1003.4,1813.9 1002.7,1814.1 1002.0,1814.1 1001.3,1814.1 1000.5,1814.0 999.7,1813.8 998.9,1813.6 998.1,1813.2 997.2,1812.8 996.4,1812.3 995.6,1811.7 994.8,1811.1 994.0,1810.4 993.3,1809.7 992.5,1808.8 991.8,1808.0 991.1,1807.1 990.5,1806.1 989.9,1805.2 989.4,1804.2 988.9,1803.2 988.4,1802.1 988.1,1801.1 987.7,1800.0 987.5,1799.0 987.3,1798.0 987.1,1797.0 987.0,1796.0 987.0,1795.0 987.1,1794.1 987.2,1793.2 987.4,1792.4 987.6,1791.6 987.9,1790.9 988.3,1790.2 988.7,1789.6 989.1,1789.1 989.7,1788.6 990.2,1788.3" fill="#fff" stroke="#333" stroke-width="1.9" stroke-linejoin="round"/>
<polygon points="988.0,1776.3 989.1,1775.8 990.2,1775.4 991.5,1775.1 992.8,1775.0 994.1,1775.0 995.5,1775.2 996.9,1775.6 998.4,1776.0 999.9,1776.7 1001.3,1777.4 1002.8,1778.3 1004.3,1779.3 1005.7,1780.4 1007.1,1781.7 1008.5,1783.0 1009.8,1784.5 1011.1,1786.0 1012.3,1787.6 1013.4,1789.3 1014.5,1791.1 1015.4,1792.9 1016.3,1794.7 1017.1,1796.5 1017.8,1798.4 1018.4,1800.3 1018.9,1802.1 1019.2,1804.0 1019.5,1805.8 1019.6,1807.6 1019.7,1809.3 1019.6,1810.9 1019.4,1812.5 1019.0,1814.0 1018.6,1815.4 1018.1,1816.7 1017.4,1817.9 1016.7,1818.9 1015.8,1819.9 1014.9,1820.7 1013.9,1821.4 994.8,1832.4 993.7,1832.9 992.5,1833.3 991.3,1833.5 990.0,1833.7 988.7,1833.6 987.3,1833.4 985.8,1833.1 984.4,1832.6 982.9,1832.0 981.5,1831.2 980.0,1830.4 978.5,1829.4 977.1,1828.2 975.7,1827.0 974.3,1825.6 973.0,1824.2 971.7,1822.6 970.5,1821.0 969.4,1819.3 968.3,1817.6 967.4,1815.8 966.5,1814.0 965.7,1812.1 965.0,1810.2 964.4,1808.4 963.9,1806.5 963.6,1804.7 963.3,1802.9 963.2,1801.1 963.1,1799.4 963.2,1797.7 963.4,1796.1 963.7,1794.7 964.2,1793.3 964.7,1792.0 965.4,1790.8 966.1,1789.7 966.9,1788.8 967.9,1788.0 968.9,1787.3" fill="#fff" stroke="#333" stroke-width="2.0" stroke-linejoin="round"/>
<ellipse cx="981.9" cy="1809.8" rx="15.6" ry="26.0" transform="rotate(-29.9 981.9 1809.8)" fill="#fff" stroke="#333" stroke-width="2.0"/>
<polyline points="974.6,1785.1 975.7,1784.6 976.8,1784.2 978.0,1784.0 979.2,1783.9 980.5,1783.9 981.9,1784.1 983.2,1784.4 984.6,1784.9 986.0,1785.5 987.4,1786.2 988.9,1787.1 990.3,1788.0 991.6,1789.1 993.0,1790.3 994.3,1791.6 995.6,1793.0 996.8,1794.5 998.0,1796.0 999.0,1797.7 1000.1,1799.3 1001.0,1801.1 1001.9,1802.8 1002.6,1804.6 1003.3,1806.4 1003.8,1808.2 1004.3,1810.0 1004.7,1811.8 1004.9,1813.5 1005.0,1815.2 1005.1,1816.9 1005.0,1818.4 1004.8,1820.0 1004.5,1821.4 1004.1,1822.7 1003.6,1824.0 1002.9,1825.1 1002.2,1826.1 1001.4,1827.1 1000.5,1827.8 999.5,1828.5" fill="none" stroke="#333" stroke-width="1.3" stroke-linejoin="round"/>
<ellipse cx="981.9" cy="1809.8" rx="12.0" ry="20.0" transform="rotate(-29.9 981.9 1809.8)" fill="none" stroke="#333" stroke-width="1.6"/>
<polygon points="987.8,1806.4 990.0,1818.1 983.2,1822.0 974.2,1814.2 972.0,1802.5 978.8,1798.6" fill="#fff" stroke="#333" stroke-width="2.2" stroke-linejoin="round"/>
<line x1="974.9" y1="1797.7" x2="987.1" y2="1806.8" stroke="#333" stroke-width="1.4"/>
<line x1="988.8" y1="1821.9" x2="987.1" y2="1806.8" stroke="#333" stroke-width="1.4"/>
<line x1="974.6" y1="1814.0" x2="987.1" y2="1806.8" stroke="#333" stroke-width="1.4"/>
<polygon points="729.5,1784.1 736.7,1774.2 753.6,1769.1 765.9,1779.3 755.8,1789.7" fill="#fff" stroke="#333" stroke-width="1.8" stroke-linejoin="round"/>
<polygon points="730.2,1779.0 732.2,1778.1 734.3,1777.4 736.5,1776.9 738.8,1776.7 741.1,1776.8 743.6,1777.1 746.1,1777.7 748.7,1778.6 751.3,1779.7 753.9,1781.0 756.5,1782.6 759.0,1784.4 761.6,1786.4 764.1,1788.6 766.5,1791.0 768.8,1793.5 771.1,1796.2 773.2,1799.1 775.2,1802.1 777.1,1805.2 778.8,1808.3 780.4,1811.6 781.8,1814.9 783.0,1818.2 784.0,1821.5 784.9,1824.8 785.5,1828.0 786.0,1831.2 786.3,1834.4 786.3,1837.4 786.1,1840.3 785.8,1843.1 785.2,1845.7 784.5,1848.2 783.5,1850.5 782.4,1852.6 781.0,1854.5 779.6,1856.2 777.9,1857.6 776.1,1858.8 729.3,1885.7 727.3,1886.7 725.3,1887.4 723.1,1887.8 720.8,1888.0 718.4,1888.0 715.9,1887.6 713.4,1887.0 710.8,1886.2 708.2,1885.1 705.6,1883.8 703.1,1882.2 700.5,1880.4 697.9,1878.4 695.4,1876.2 693.0,1873.8 690.7,1871.3 688.4,1868.5 686.3,1865.7 684.3,1862.7 682.4,1859.6 680.7,1856.4 679.1,1853.2 677.7,1849.9 676.5,1846.6 675.5,1843.3 674.6,1840.0 674.0,1836.7 673.5,1833.5 673.3,1830.4 673.2,1827.4 673.4,1824.5 673.7,1821.7 674.3,1819.0 675.1,1816.6 676.0,1814.3 677.2,1812.2 678.5,1810.3 680.0,1808.6 681.6,1807.2 683.4,1806.0" fill="#fff" stroke="#333" stroke-width="1.8" stroke-linejoin="round"/>
<ellipse cx="706.4" cy="1845.8" rx="27.6" ry="46.0" transform="rotate(-29.9 706.4 1845.8)" fill="#fff" stroke="#333" stroke-width="1.6"/>
<ellipse cx="709.0" cy="1844.3" rx="24.6" ry="41.0" transform="rotate(-29.9 709.0 1844.3)" fill="none" stroke="#333" stroke-width="1.3"/>
<polyline points="695.0,1809.9 696.5,1808.8 698.1,1808.0 699.9,1807.4 701.8,1807.1 703.7,1806.9 705.8,1807.0 707.9,1807.4 710.0,1807.9 712.2,1808.7 714.4,1809.7 716.6,1811.0 718.8,1812.4 721.0,1814.0 723.1,1815.8 725.2,1817.8 727.2,1820.0 729.1,1822.2 731.0,1824.7 732.7,1827.2 734.3,1829.8 735.7,1832.5 737.0,1835.2 738.2,1838.0 739.2,1840.8 740.1,1843.6 740.7,1846.4 741.2,1849.2 741.5,1851.9 741.7,1854.5 741.6,1857.0 741.4,1859.4 741.0,1861.7 740.4,1863.9 739.6,1865.9 738.7,1867.7 737.6,1869.3 736.3,1870.7 734.9,1872.0 733.4,1873.0 731.7,1873.8" fill="none" stroke="#333" stroke-width="2.4" stroke-linejoin="round"/>
<polyline points="703.7,1801.4 705.4,1800.3 707.2,1799.4 709.1,1798.7 711.1,1798.3 713.2,1798.2 715.4,1798.3 717.7,1798.7 720.0,1799.3 722.4,1800.1 724.8,1801.2 727.2,1802.6 729.5,1804.1 731.9,1805.9 734.2,1807.8 736.4,1810.0 738.6,1812.3 740.7,1814.7 742.7,1817.4 744.5,1820.1 746.2,1822.9 747.8,1825.8 749.2,1828.8 750.5,1831.8 751.6,1834.9 752.5,1837.9 753.2,1840.9 753.8,1843.9 754.1,1846.8 754.2,1849.6 754.2,1852.4 753.9,1855.0 753.5,1857.4 752.8,1859.8 752.0,1861.9 751.0,1863.9 749.8,1865.6 748.4,1867.2 746.9,1868.5 745.3,1869.6 743.5,1870.5" fill="none" stroke="#333" stroke-width="1.8" stroke-linejoin="round"/>
<polyline points="713.1,1793.7 714.8,1792.5 716.7,1791.6 718.7,1790.9 720.8,1790.5 723.0,1790.4 725.3,1790.5 727.7,1790.9 730.2,1791.5 732.6,1792.4 735.1,1793.6 737.7,1795.0 740.2,1796.6 742.6,1798.4 745.0,1800.5 747.4,1802.7 749.7,1805.2 751.8,1807.8 753.9,1810.5 755.9,1813.4 757.7,1816.3 759.3,1819.4 760.8,1822.5 762.2,1825.7 763.3,1828.9 764.3,1832.1 765.0,1835.2 765.6,1838.4 765.9,1841.4 766.1,1844.4 766.0,1847.3 765.8,1850.0 765.3,1852.6 764.6,1855.0 763.7,1857.3 762.7,1859.3 761.4,1861.2 760.0,1862.8 758.4,1864.2 756.7,1865.4 754.8,1866.3" fill="none" stroke="#333" stroke-width="1.6" stroke-linejoin="round"/>
<polyline points="733.4,1782.6 735.6,1782.7 737.7,1783.1 740.0,1783.7 742.2,1784.4 744.5,1785.4 746.8,1786.6 749.0,1787.9 751.3,1789.4 753.5,1791.2 755.7,1793.0 757.9,1795.1 760.0,1797.2 762.0,1799.5 763.9,1802.0 765.8,1804.5 767.5,1807.1 769.2,1809.8 770.7,1812.6 772.1,1815.5 773.3,1818.3 774.4,1821.2 775.4,1824.1 776.2,1827.0 776.9,1829.9 777.4,1832.7 777.7,1835.5 777.9,1838.3 777.9,1840.9 777.8,1843.4 777.5,1845.9 777.0,1848.2 776.3,1850.4 775.5,1852.5 774.6,1854.4 773.5,1856.1 772.3,1857.7 770.9,1859.1 769.4,1860.3 767.8,1861.3 766.1,1862.1" fill="none" stroke="#333" stroke-width="1.4" stroke-linejoin="round"/>
<ellipse cx="711.6" cy="1842.9" rx="18.0" ry="30.0" transform="rotate(-29.9 711.6 1842.9)" fill="none" stroke="#333" stroke-width="1.8"/>
<line x1="718.1" y1="1786.0" x2="730.2" y2="1779.0" stroke="#333" stroke-width="1.4"/>
<polygon points="569.4,1890.6 587.6,1869.4 608.4,1857.4 640.8,1877.4 654.9,1918.7 636.6,1939.9 615.8,1951.9 583.5,1931.9" fill="#fff" stroke="#333" stroke-width="2.0" stroke-linejoin="round"/>
<line x1="587.6" y1="1869.4" x2="608.4" y2="1857.4" stroke="#333" stroke-width="1.6"/>
<line x1="619.9" y1="1889.4" x2="640.8" y2="1877.4" stroke="#333" stroke-width="1.6"/>
<line x1="634.1" y1="1930.6" x2="654.9" y2="1918.6" stroke="#333" stroke-width="1.6"/>
<line x1="615.8" y1="1951.9" x2="636.6" y2="1939.9" stroke="#333" stroke-width="1.6"/>
<polygon points="587.6,1869.4 619.9,1889.4 634.1,1930.6 615.8,1951.9 583.5,1931.9 569.4,1890.6" fill="#fff" stroke="#333" stroke-width="1.8" stroke-linejoin="round"/>
<polyline points="587.8,1874.3 589.5,1874.0 591.2,1873.9 593.0,1873.9 594.9,1874.1 596.8,1874.5 598.7,1875.1 600.6,1875.8 602.6,1876.7 604.5,1877.8 606.5,1879.0 608.4,1880.3 610.4,1881.8 612.2,1883.5 614.1,1885.2 615.9,1887.1 617.6,1889.1 619.3,1891.2 620.8,1893.4 622.3,1895.6 623.7,1898.0 625.0,1900.4 626.2,1902.8 627.3,1905.2 628.3,1907.7 629.2,1910.2 629.9,1912.7 630.5,1915.2 631.0,1917.7 631.3,1920.1 631.5,1922.4 631.5,1924.7 631.5,1926.9 631.3,1929.1 630.9,1931.1 630.4,1933.1 629.8,1934.9 629.1,1936.6 628.2,1938.2 627.2,1939.6 626.1,1940.9" fill="none" stroke="#333" stroke-width="1.3" stroke-linejoin="round"/>
<polygon points="586.1,1881.5 587.5,1880.8 589.0,1880.3 590.6,1880.0 592.2,1879.9 594.0,1879.9 595.7,1880.2 597.5,1880.6 599.4,1881.2 601.2,1882.0 603.1,1882.9 605.0,1884.0 606.8,1885.3 608.6,1886.8 610.4,1888.3 612.1,1890.1 613.8,1891.9 615.4,1893.9 617.0,1895.9 618.4,1898.0 619.7,1900.3 621.0,1902.5 622.1,1904.9 623.1,1907.2 624.0,1909.6 624.7,1912.0 625.3,1914.3 625.8,1916.7 626.1,1919.0 626.3,1921.2 626.4,1923.4 626.2,1925.5 626.0,1927.5 625.6,1929.4 625.0,1931.1 624.4,1932.8 623.5,1934.3 622.6,1935.6 621.5,1936.8 620.3,1937.9 619.0,1938.7 603.4,1947.7 602.0,1948.4 600.5,1948.9 599.0,1949.2 597.3,1949.4 595.6,1949.3 593.8,1949.1 592.0,1948.6 590.2,1948.0 588.3,1947.3 586.5,1946.3 584.6,1945.2 582.8,1943.9 580.9,1942.5 579.2,1940.9 577.4,1939.2 575.7,1937.3 574.1,1935.4 572.6,1933.3 571.2,1931.2 569.8,1929.0 568.6,1926.7 567.5,1924.4 566.5,1922.0 565.6,1919.6 564.8,1917.3 564.2,1914.9 563.8,1912.6 563.4,1910.3 563.2,1908.0 563.2,1905.9 563.3,1903.8 563.6,1901.8 564.0,1899.9 564.5,1898.1 565.2,1896.4 566.0,1894.9 567.0,1893.6 568.0,1892.4 569.2,1891.4 570.5,1890.5" fill="#fff" stroke="#333" stroke-width="2.8" stroke-linejoin="round"/>
<ellipse cx="587.0" cy="1919.1" rx="19.8" ry="33.0" transform="rotate(-29.9 587.0 1919.1)" fill="#fff" stroke="#333" stroke-width="2.8"/>
<ellipse cx="587.0" cy="1919.1" rx="16.8" ry="28.0" transform="rotate(-29.9 587.0 1919.1)" fill="none" stroke="#333" stroke-width="1.4"/>
<ellipse cx="589.6" cy="1917.6" rx="14.4" ry="24.0" transform="rotate(-29.9 589.6 1917.6)" fill="#fff" stroke="#333" stroke-width="2.0"/>
<polygon points="466.1,1935.6 468.0,1934.6 470.0,1933.9 472.2,1933.5 474.4,1933.3 476.8,1933.4 479.2,1933.7 481.6,1934.3 484.1,1935.1 486.7,1936.2 489.2,1937.5 491.8,1939.0 494.3,1940.7 496.8,1942.7 499.2,1944.9 501.6,1947.2 503.9,1949.7 506.0,1952.4 508.1,1955.2 510.1,1958.1 511.9,1961.1 513.6,1964.2 515.2,1967.4 516.5,1970.6 517.7,1973.8 518.7,1977.1 519.6,1980.3 520.2,1983.5 520.6,1986.6 520.9,1989.7 520.9,1992.6 520.8,1995.5 520.4,1998.2 519.9,2000.8 519.1,2003.2 518.2,2005.5 517.1,2007.5 515.8,2009.4 514.3,2011.0 512.7,2012.4 511.0,2013.6 451.1,2048.0 449.2,2048.9 447.2,2049.6 445.1,2050.0 442.8,2050.2 440.5,2050.2 438.1,2049.8 435.6,2049.3 433.1,2048.4 430.6,2047.4 428.0,2046.1 425.5,2044.5 423.0,2042.8 420.5,2040.8 418.0,2038.7 415.7,2036.3 413.4,2033.8 411.2,2031.2 409.1,2028.4 407.1,2025.4 405.3,2022.4 403.6,2019.3 402.1,2016.1 400.7,2012.9 399.5,2009.7 398.5,2006.5 397.7,2003.2 397.0,2000.1 396.6,1996.9 396.3,1993.9 396.3,1990.9 396.4,1988.0 396.8,1985.3 397.4,1982.7 398.1,1980.3 399.0,1978.1 400.1,1976.0 401.4,1974.2 402.9,1972.5 404.5,1971.1 406.3,1969.9" fill="#fff" stroke="#333" stroke-width="2.0" stroke-linejoin="round"/>
<polyline points="402.6,1972.9 404.3,1971.3 406.3,1969.9 408.4,1968.9 410.7,1968.2 413.1,1967.8 415.6,1967.7 418.3,1967.9 421.0,1968.4 423.8,1969.3 426.6,1970.4 429.4,1971.9 432.2,1973.6 435.0,1975.6 437.8,1977.8 440.4,1980.3 443.0,1983.0 445.5,1985.9 447.9,1988.9 450.1,1992.2 452.1,1995.5 454.0,1999.0 455.7,2002.5 457.1,2006.1 458.4,2009.7 459.4,2013.2 460.2,2016.8 460.7,2020.3 461.1,2023.7 461.1,2027.0 460.9,2030.2 460.5,2033.2 459.8,2036.0 458.9,2038.6 457.8,2041.0 456.4,2043.2 454.9,2045.0 453.1,2046.6 451.1,2048.0 449.0,2049.0 446.7,2049.7" fill="none" stroke="#333" stroke-width="1.8" stroke-linejoin="round"/>
<polyline points="411.5,1967.0 413.4,1966.0 415.4,1965.3 417.6,1964.9 419.8,1964.7 422.1,1964.8 424.5,1965.1 427.0,1965.7 429.5,1966.5 432.1,1967.6 434.6,1968.9 437.1,1970.4 439.7,1972.1 442.1,1974.1 444.6,1976.3 446.9,1978.6 449.2,1981.1 451.4,1983.8 453.5,1986.6 455.5,1989.5 457.3,1992.5 459.0,1995.6 460.5,1998.8 461.9,2002.0 463.1,2005.2 464.1,2008.5 464.9,2011.7 465.6,2014.9 466.0,2018.0 466.3,2021.1 466.3,2024.0 466.2,2026.9 465.8,2029.6 465.3,2032.2 464.5,2034.6 463.6,2036.9 462.5,2038.9 461.2,2040.8 459.7,2042.4 458.1,2043.8 456.3,2045.0" fill="none" stroke="#333" stroke-width="1.3" stroke-linejoin="round"/>
<polyline points="467.2,2039.9 463.1,1992.6 505.3,1969.6" fill="none" stroke="#333" stroke-width="1.8" stroke-linejoin="round"/>
<ellipse cx="456" cy="1958" rx="20" ry="12" transform="rotate(-10 456 1958)" fill="#fff" stroke="#333" stroke-width="1.8"/>
<ellipse cx="460" cy="1954" rx="24" ry="15" transform="rotate(-10 460 1954)" fill="none" stroke="#333" stroke-width="1.4"/>
<ellipse cx="428.7" cy="2009.0" rx="24.0" ry="40.0" transform="rotate(-29.9 428.7 2009.0)" fill="#fff" stroke="#333" stroke-width="1.8"/>
<ellipse cx="428.7" cy="2009.0" rx="21.0" ry="35.0" transform="rotate(-29.9 428.7 2009.0)" fill="none" stroke="#333" stroke-width="1.3"/>
<polygon points="411.5,1983.1 412.8,1982.4 414.2,1982.0 415.7,1981.7 417.3,1981.5 418.9,1981.6 420.5,1981.8 422.2,1982.2 423.9,1982.8 425.7,1983.5 427.4,1984.4 429.2,1985.5 430.9,1986.7 432.6,1988.0 434.3,1989.5 436.0,1991.1 437.5,1992.8 439.0,1994.7 440.5,1996.6 441.8,1998.6 443.1,2000.7 444.3,2002.8 445.3,2005.0 446.3,2007.2 447.1,2009.4 447.8,2011.7 448.4,2013.9 448.8,2016.1 449.1,2018.3 449.3,2020.4 449.3,2022.4 449.2,2024.4 449.0,2026.2 448.6,2028.0 448.1,2029.7 447.4,2031.2 446.7,2032.6 445.8,2033.9 444.8,2035.0 443.6,2036.0 442.4,2036.8 375.7,2075.2 374.4,2075.9 373.0,2076.3 371.5,2076.6 369.9,2076.8 368.3,2076.7 366.7,2076.5 365.0,2076.1 363.2,2075.5 361.5,2074.8 359.7,2073.9 358.0,2072.8 356.3,2071.6 354.5,2070.3 352.9,2068.8 351.2,2067.2 349.7,2065.5 348.2,2063.6 346.7,2061.7 345.4,2059.7 344.1,2057.6 342.9,2055.5 341.9,2053.3 340.9,2051.1 340.1,2048.9 339.4,2046.6 338.8,2044.4 338.4,2042.2 338.1,2040.0 337.9,2037.9 337.9,2035.9 338.0,2033.9 338.2,2032.0 338.6,2030.3 339.1,2028.6 339.8,2027.1 340.5,2025.6 341.4,2024.4 342.4,2023.2 343.6,2022.3 344.8,2021.5" fill="#fff" stroke="#333" stroke-width="1.8" stroke-linejoin="round"/>
<line x1="351.3" y1="2018.8" x2="410.3" y2="1984.9" stroke="#333" stroke-width="1.6"/>
<line x1="361.0" y1="2019.4" x2="414.7" y2="1988.4" stroke="#333" stroke-width="1.2"/>
<line x1="357.6" y1="2017.3" x2="416.5" y2="1983.4" stroke="#333" stroke-width="1.6"/>
<line x1="366.6" y1="2019.2" x2="420.3" y2="1988.3" stroke="#333" stroke-width="1.2"/>
<line x1="364.9" y1="2019.2" x2="423.8" y2="1985.3" stroke="#333" stroke-width="1.6"/>
<line x1="372.8" y1="2021.8" x2="426.6" y2="1990.9" stroke="#333" stroke-width="1.2"/>
<line x1="372.3" y1="2024.1" x2="431.3" y2="1990.2" stroke="#333" stroke-width="1.6"/>
<line x1="378.9" y1="2026.8" x2="432.6" y2="1995.9" stroke="#333" stroke-width="1.2"/>
<line x1="379.1" y1="2031.5" x2="438.0" y2="1997.6" stroke="#333" stroke-width="1.6"/>
<line x1="384.1" y1="2033.6" x2="437.8" y2="2002.7" stroke="#333" stroke-width="1.2"/>
<line x1="384.3" y1="2040.5" x2="443.2" y2="2006.6" stroke="#333" stroke-width="1.6"/>
<line x1="387.7" y1="2041.5" x2="441.5" y2="2010.5" stroke="#333" stroke-width="1.2"/>
<line x1="387.3" y1="2050.1" x2="446.2" y2="2016.2" stroke="#333" stroke-width="1.6"/>
<line x1="389.4" y1="2049.3" x2="443.2" y2="2018.4" stroke="#333" stroke-width="1.2"/>
<line x1="387.8" y1="2059.0" x2="446.7" y2="2025.1" stroke="#333" stroke-width="1.6"/>
<line x1="388.9" y1="2056.3" x2="442.7" y2="2025.4" stroke="#333" stroke-width="1.2"/>
<line x1="385.7" y1="2066.2" x2="444.6" y2="2032.3" stroke="#333" stroke-width="1.6"/>
<line x1="386.4" y1="2061.5" x2="440.1" y2="2030.6" stroke="#333" stroke-width="1.2"/>
<line x1="381.2" y1="2070.9" x2="440.2" y2="2037.0" stroke="#333" stroke-width="1.6"/>
<line x1="382.0" y1="2064.4" x2="435.8" y2="2033.5" stroke="#333" stroke-width="1.2"/>
<ellipse cx="360.2" cy="2048.3" rx="18.6" ry="31.0" transform="rotate(-29.9 360.2 2048.3)" fill="#fff" stroke="#333" stroke-width="1.8"/>
<polygon points="371.0,2042.2 369.5,2049.9 374.2,2059.3 367.1,2058.2 364.4,2064.9 358.7,2056.2 351.2,2053.5 352.7,2045.7 347.9,2036.4 355.1,2037.4 357.8,2030.7 363.5,2039.5" fill="none" stroke="#333" stroke-width="1.6" stroke-linejoin="round"/>
<line x1="458.5" y1="1766.0" x2="458.5" y2="1965.0" stroke="#333" stroke-width="1.6"/>
<path d="M439,1738 L439,1752 A20,11 0 0 0 479,1752 L479,1738" fill="#fff" stroke="#333" stroke-width="2"/>
<ellipse cx="459" cy="1738" rx="20" ry="11" fill="#fff" stroke="#333" stroke-width="2"/>
<rect x="452" y="1732" width="14" height="11" fill="none" stroke="#333" stroke-width="1.6"/>
<path d="M443,1733 l6,9 M475,1733 l-6,9" stroke="#333" stroke-width="1.6"/>
<polyline points="2301.4,1091.0 2291.5,1209.5 2166.6,1147.6" fill="none" stroke="#333" stroke-width="1.8" stroke-linejoin="round"/>
<line x1="1698.0" y1="1361.7" x2="1754.4" y2="1453.0" stroke="#333" stroke-width="1.8"/>
<line x1="1113.9" y1="1448.6" x2="1123.8" y2="1529.9" stroke="#333" stroke-width="1.8"/>
<polyline points="967.4,1643.2 886.5,1865.8 959.4,1822.6" fill="none" stroke="#333" stroke-width="1.8" stroke-linejoin="round"/>
<line x1="885.7" y1="1761.7" x2="886.5" y2="1865.8" stroke="#333" stroke-width="1.8"/>
<line x1="628.2" y1="1962.0" x2="631.0" y2="2044.0" stroke="#333" stroke-width="1.8"/>
</svg></body></html>
